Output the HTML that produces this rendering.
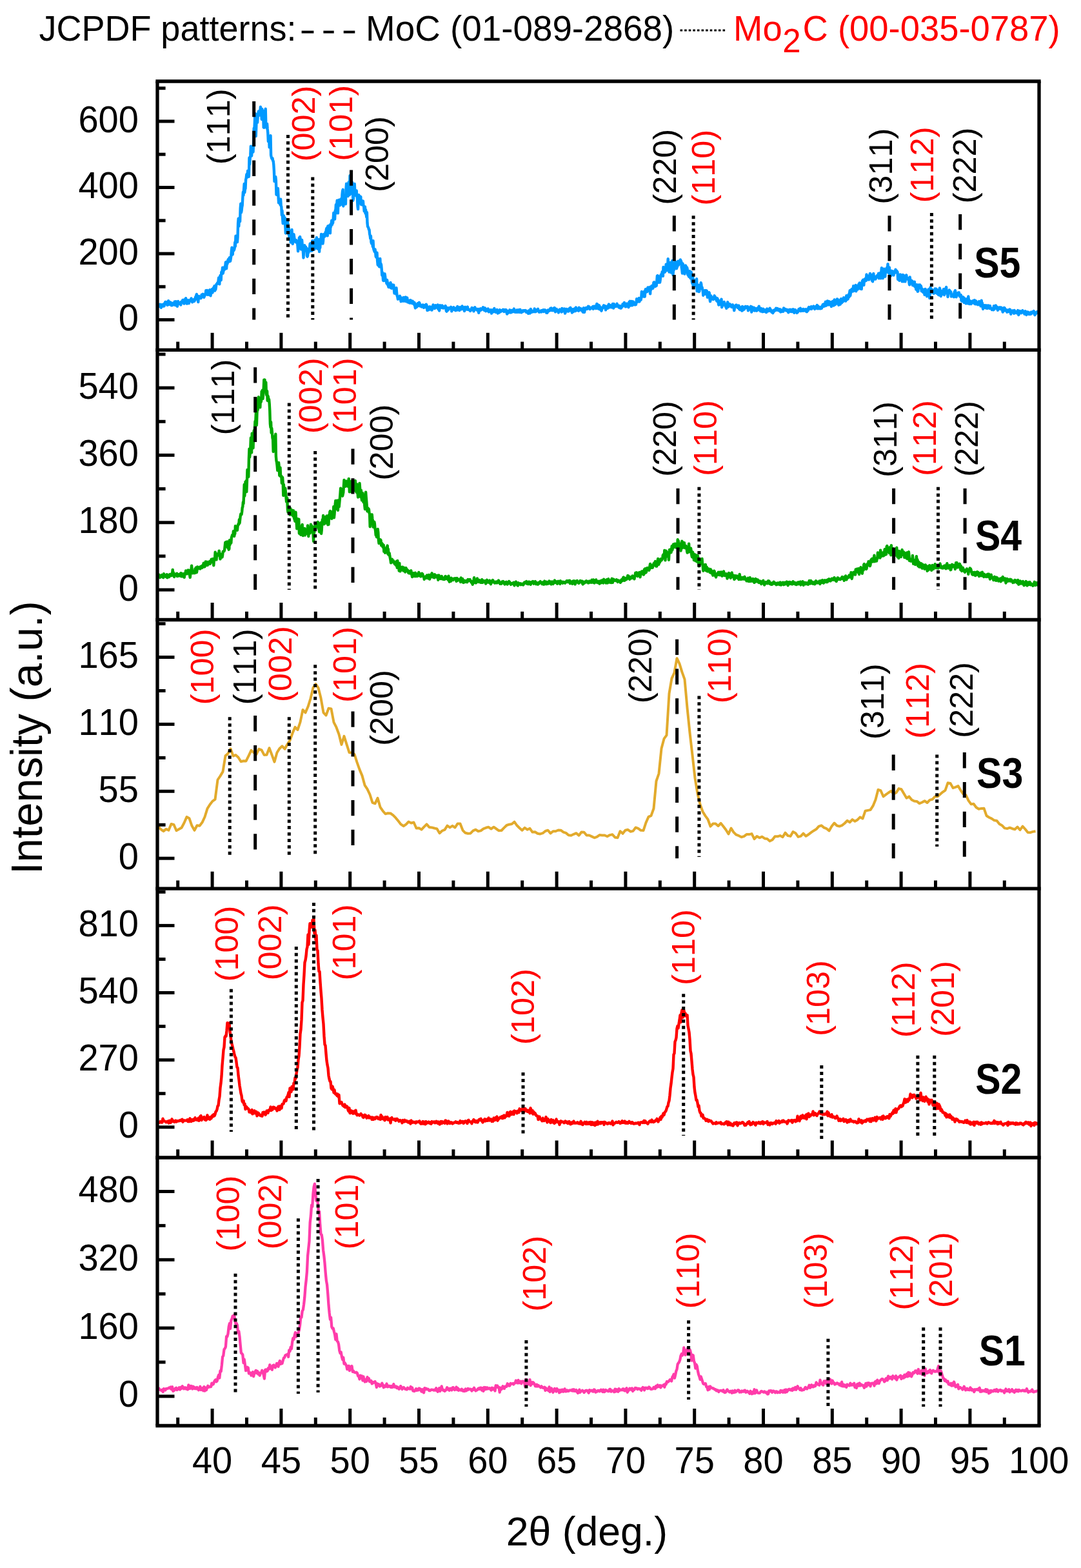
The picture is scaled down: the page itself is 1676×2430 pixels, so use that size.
<!DOCTYPE html>
<html><head><meta charset="utf-8"><title>XRD patterns</title>
<style>html,body{margin:0;padding:0;background:#fff;}svg{display:block;font-family:'Liberation Sans', Arial, sans-serif;font-kerning:none;}</style>
</head><body>
<svg width="1676" height="2430" viewBox="0 0 1676 2430">
<rect width="1676" height="2430" fill="#fff"/>
<path d="M245.5,474.6 246.1,475 246.7,473.6 247.3,472.1 247.9,472.6 248.5,471.8 249.1,474.3 249.7,476.8 250.3,473 250.9,472.4 251.5,474.7 252.1,474.6 252.7,473.6 253.3,471.4 253.9,473.2 254.5,474.4 255.1,470.2 255.7,470.9 256.3,468 256.9,468.6 257.5,468 258.1,471.1 258.7,469.7 259.3,472.8 259.9,472.8 260.5,471.1 261.1,466.1 261.7,470 262.3,471.8 262.9,471.6 263.5,468.1 264.1,469.7 264.7,468.8 265.3,469.6 265.9,473.4 266.5,469.7 267.1,471.1 267.7,473 268.3,469.9 268.9,470.4 269.5,471 270.1,470.4 270.7,467.6 271.3,470.7 271.9,473.1 272.5,467.3 273.1,471.7 273.7,470.4 274.3,469.1 274.9,474.8 275.5,471.9 276.1,466.9 276.7,469.4 277.3,470.8 277.9,469.2 278.5,470.7 279.1,469.4 279.7,471.1 280.3,472.4 280.9,467.6 281.5,468.6 282.1,467.4 282.7,468 283.3,465 283.9,466.1 284.5,467.6 285.1,470.6 285.7,470.6 286.3,464.3 286.9,465.2 287.5,468 288.1,462.1 288.7,465.1 289.3,467.1 289.9,470.5 290.5,469 291.1,466 291.7,465.4 292.3,466.2 292.9,470.1 293.5,465.5 294.1,465.2 294.7,466.7 295.3,465.5 295.9,464.6 296.5,462.4 297.1,464.7 297.7,464.5 298.3,468.3 298.9,467.1 299.5,465.2 300.1,466.2 300.7,464.1 301.3,466.9 301.9,464.6 302.5,464.8 303.1,460.2 303.7,463 304.3,457.5 304.9,456.1 305.5,460.4 306.1,459.6 306.7,463.1 307.3,468 307.9,459.7 308.5,459.1 309.1,461.5 309.7,462.2 310.3,460 310.9,459.8 311.5,462.2 312.1,461.2 312.7,456.6 313.3,458.6 313.9,458.7 314.5,455.8 315.1,458.6 315.7,456.4 316.3,460.9 316.9,459.1 317.5,457.9 318.1,455.7 318.7,455.7 319.3,450.2 319.9,452.4 320.5,456.1 321.1,450 321.7,456.8 322.3,450.7 322.9,456.4 323.5,452.9 324.1,456.7 324.7,454.2 325.3,449.3 325.9,457.4 326.5,458.3 327.1,452.8 327.7,450.9 328.3,450.3 328.9,448.1 329.5,453.5 330.1,448.5 330.7,448.4 331.3,445.5 331.9,444.7 332.5,443.2 333.1,450.6 333.7,446.7 334.3,448.7 334.9,444.5 335.5,440.6 336.1,440.4 336.7,439 337.3,439.7 337.9,437.4 338.5,435.7 339.1,430.5 339.7,432.5 340.3,440.3 340.9,430.6 341.5,426.9 342.1,431.9 342.7,434.1 343.3,421.6 343.9,423.4 344.5,420 345.1,414.8 345.7,423.7 346.3,420.6 346.9,418.7 347.5,414.5 348.1,417.8 348.7,413 349.3,412.3 349.9,406.5 350.5,406 351.1,416.2 351.7,408.2 352.3,409.3 352.9,406.7 353.5,402.9 354.1,401.8 354.7,405.8 355.3,400.5 355.9,399.4 356.5,400 357.1,404.7 357.7,401.2 358.3,396.9 358.9,389 359.5,383.8 360.1,394.8 360.7,394.3 361.3,386.6 361.9,388 362.5,388.2 363.1,386.9 363.7,384.2 364.3,375.5 364.9,381.7 365.5,365.8 366.1,373.8 366.7,371.2 367.3,371.4 367.9,375.2 368.5,367.9 369.1,345.8 369.7,338.6 370.3,350.6 370.9,338.4 371.5,341.6 372.1,343.3 372.7,322.6 373.3,315.8 373.9,329.6 374.5,327.1 375.1,321.4 375.7,318.3 376.3,306.7 376.9,297.7 377.5,302.6 378.1,292.8 378.7,285 379.3,298.1 379.9,293.5 380.5,292.1 381.1,278.3 381.7,276.1 382.3,270.7 382.9,269.5 383.5,274.5 384.1,264.8 384.7,269.1 385.3,268.1 385.9,273.8 386.5,244.5 387.1,254.7 387.7,245.7 388.3,240.4 388.9,226.6 389.5,232.8 390.1,241.5 390.7,233.9 391.3,231.5 391.9,227.8 392.5,235.5 393.1,221 393.7,198.8 394.3,204 394.9,189.3 395.5,176 396.1,196.8 396.7,211.1 397.3,195.9 397.9,178.8 398.5,177 399.1,189.9 399.7,180.6 400.3,175.7 400.9,172.4 401.5,172.5 402.1,178.6 402.7,177.5 403.3,173.7 403.9,165.8 404.5,177.8 405.1,173.1 405.7,185 406.3,168.9 406.9,176.7 407.5,178.4 408.1,171.8 408.7,197.4 409.3,197.7 409.9,183.3 410.5,192.9 411.1,189.4 411.7,168.8 412.3,192.4 412.9,196.4 413.5,198.4 414.1,191.9 414.7,200 415.3,205.9 415.9,219.2 416.5,215.3 417.1,215.6 417.7,228.4 418.3,215 418.9,214.8 419.5,210.1 420.1,240.6 420.7,243.2 421.3,245.5 421.9,246.4 422.5,245.3 423.1,249.1 423.7,249.8 424.3,254.9 424.9,264.3 425.5,281.1 426.1,278.4 426.7,275.4 427.3,274.1 427.9,280 428.5,301.8 429.1,298.3 429.7,296.1 430.3,294.4 430.9,292 431.5,304 432.1,314.3 432.7,308.2 433.3,310.8 433.9,314.1 434.5,317.4 435.1,308.6 435.7,319 436.3,320.3 436.9,333.3 437.5,326.5 438.1,337.9 438.7,346.4 439.3,335.5 439.9,334.2 440.5,341.3 441.1,341.4 441.7,337.4 442.3,349.9 442.9,361.5 443.5,348.5 444.1,346.9 444.7,343.8 445.3,352 445.9,343.9 446.5,346.9 447.1,362.3 447.7,353 448.3,365.7 448.9,370.5 449.5,363.8 450.1,367 450.7,375.5 451.3,363.3 451.9,358.9 452.5,356 453.1,366.8 453.7,378 454.3,375 454.9,363.2 455.5,363.1 456.1,367 456.7,372.6 457.3,371.3 457.9,374.1 458.5,375.1 459.1,372.2 459.7,374.1 460.3,376.1 460.9,375.7 461.5,380.9 462.1,389.3 462.7,382.7 463.3,377.2 463.9,368.5 464.5,378.1 465.1,366.9 465.7,370.7 466.3,385.4 466.9,386.4 467.5,380.3 468.1,371.9 468.7,378.9 469.3,380.1 469.9,389.8 470.5,399.5 471.1,388.7 471.7,381.5 472.3,380.2 472.9,386.9 473.5,387 474.1,382.8 474.7,388.5 475.3,384.4 475.9,396.3 476.5,397.8 477.1,396.3 477.7,387.9 478.3,391.3 478.9,387.7 479.5,385.1 480.1,383.8 480.7,377.6 481.3,377.3 481.9,389 482.5,385 483.1,386.6 483.7,388.6 484.3,373.1 484.9,376.6 485.5,382.8 486.1,383.7 486.7,380 487.3,386.6 487.9,381.2 488.5,371.6 489.1,373.2 489.7,383.4 490.3,380.4 490.9,368.2 491.5,384.9 492.1,383.6 492.7,385.5 493.3,375.2 493.9,373 494.5,371 495.1,390.1 495.7,377.9 496.3,384 496.9,372 497.5,372.9 498.1,362.9 498.7,370.1 499.3,377.3 499.9,366.2 500.5,377.5 501.1,373.1 501.7,363.3 502.3,364.7 502.9,365.1 503.5,366.5 504.1,362.5 504.7,359.7 505.3,361.2 505.9,355.7 506.5,353.5 507.1,361.4 507.7,365.3 508.3,350.5 508.9,356.6 509.5,352.1 510.1,349.8 510.7,359.3 511.3,352.6 511.9,361.4 512.5,347.6 513.1,351.3 513.7,346.1 514.3,341.6 514.9,348.1 515.5,343.4 516.1,345.6 516.7,338.9 517.3,330 517.9,334.6 518.5,336.2 519.1,339.6 519.7,326.3 520.3,327.5 520.9,317.2 521.5,330.1 522.1,317.5 522.7,310.8 523.3,323.5 523.9,330.4 524.5,310.7 525.1,310.2 525.7,311.8 526.3,309.7 526.9,318.4 527.5,309.7 528.1,309.2 528.7,316.8 529.3,307.8 529.9,312.8 530.5,301.4 531.1,295.8 531.7,293.8 532.3,319.5 532.9,305.9 533.5,306.6 534.1,304.4 534.7,304.7 535.3,305.5 535.9,316.3 536.5,292.7 537.1,284.6 537.7,287.4 538.3,287.2 538.9,303.7 539.5,304 540.1,287.7 540.7,282.3 541.3,292 541.9,302.1 542.5,272.3 543.1,293.1 543.7,286.4 544.3,300.1 544.9,286.7 545.5,290.2 546.1,282.8 546.7,289.9 547.3,310.8 547.9,308.3 548.5,297.5 549.1,291.4 549.7,284.9 550.3,297.1 550.9,302.4 551.5,303 552.1,302.1 552.7,295.5 553.3,303.5 553.9,307.3 554.5,319.6 555.1,324.1 555.7,308.4 556.3,302.3 556.9,307.3 557.5,304.3 558.1,304.2 558.7,309.1 559.3,304.9 559.9,317 560.5,314.8 561.1,317.3 561.7,315 562.3,311.5 562.9,311.7 563.5,318.6 564.1,319.9 564.7,327.4 565.3,327.1 565.9,320.5 566.5,330.6 567.1,325.3 567.7,332.3 568.3,336.4 568.9,329.3 569.5,345.8 570.1,351.1 570.7,351.9 571.3,353.1 571.9,355.9 572.5,355.9 573.1,362.7 573.7,364.9 574.3,369.8 574.9,365.6 575.5,375.1 576.1,377.3 576.7,376.7 577.3,377.1 577.9,382.2 578.5,373.1 579.1,385.1 579.7,387.2 580.3,388.9 580.9,390.3 581.5,386.4 582.1,390.4 582.7,397.4 583.3,398.7 583.9,397.6 584.5,391.6 585.1,403.7 585.7,410.4 586.3,411.1 586.9,407.2 587.5,401.1 588.1,413.4 588.7,409.7 589.3,400.9 589.9,413.9 590.5,408.8 591.1,410.6 591.7,416.9 592.3,426.7 592.9,422.3 593.5,426.5 594.1,434.7 594.7,435 595.3,428.5 595.9,427.3 596.5,424.3 597.1,428 597.7,434.2 598.3,435.6 598.9,435.9 599.5,439.3 600.1,434 600.7,437.3 601.3,441.7 601.9,442.7 602.5,445 603.1,443.1 603.7,441.2 604.3,443.4 604.9,439.1 605.5,438 606.1,446.4 606.7,446.2 607.3,446.8 607.9,441.2 608.5,445.6 609.1,446 609.7,444.9 610.3,441.7 610.9,449 611.5,454.6 612.1,453.6 612.7,451 613.3,453.6 613.9,455.3 614.5,446.2 615.1,454.1 615.7,458.2 616.3,460 616.9,463.6 617.5,462.5 618.1,460.2 618.7,460.5 619.3,461.8 619.9,458.7 620.5,460.4 621.1,464.3 621.7,467.2 622.3,461.8 622.9,461.7 623.5,463.2 624.1,466.3 624.7,463.8 625.3,466.7 625.9,461 626.5,462.5 627.1,463.4 627.7,466.6 628.3,466.9 628.9,460.4 629.5,461.8 630.1,465.3 630.7,463 631.3,461.6 631.9,468.2 632.5,468 633.1,467.6 633.7,465.9 634.3,469.2 634.9,467.2 635.5,469.6 636.1,465.2 636.7,465.2 637.3,467.8 637.9,466.7 638.5,469.9 639.1,469.2 639.7,466.7 640.3,468.8 640.9,468.9 641.5,471.6 642.1,468.6 642.7,469.4 643.3,474.1 643.9,477.4 644.5,476.7 645.1,472.3 645.7,472.8 646.3,475.6 646.9,472.1 647.5,470.2 648.1,472.8 648.7,473.7 649.3,470.8 649.9,468.8 650.5,469.9 651.1,474.4 651.7,472.2 652.3,473.4 652.9,474.7 653.5,475.5 654.1,473.9 654.7,475.1 655.3,472.6 655.9,473.1 656.5,472.7 657.1,476.9 657.7,474.9 658.3,473.2 658.9,473.9 659.5,474.7 660.1,476.1 660.7,471.7 661.3,472.4 661.9,475 662.5,481 663.1,478.3 663.7,475.9 664.3,477.8 664.9,480.2 665.5,475.8 666.1,475.4 666.7,478.5 667.3,477.6 667.9,477.4 668.5,475.8 669.1,480.5 669.7,480.5 670.3,478.2 670.9,477.2 671.5,472.5 672.1,477 672.7,476.4 673.3,477.5 673.9,478 674.5,475.6 675.1,473.2 675.7,476.7 676.3,475.2 676.9,475.7 677.5,475.4 678.1,475.3 678.7,472.4 679.3,478.8 679.9,478.2 680.5,479.9 681.1,481.4 681.7,477.2 682.3,473.2 682.9,474.4 683.5,474.3 684.1,475.9 684.7,476.7 685.3,473.4 685.9,477 686.5,474.5 687.1,477.5 687.7,477.2 688.3,476.8 688.9,477.1 689.5,476.3 690.1,475.7 690.7,474.1 691.3,477.6 691.9,481.9 692.5,482.6 693.1,481.2 693.7,479.3 694.3,477.1 694.9,480.5 695.5,478.1 696.1,477.6 696.7,477.3 697.3,477.9 697.9,477.1 698.5,477.4 699.1,475.7 699.7,477.7 700.3,482.4 700.9,478.6 701.5,477.8 702.1,479.3 702.7,479.4 703.3,476.2 703.9,477.8 704.5,480.1 705.1,479.1 705.7,479.1 706.3,481.2 706.9,477.5 707.5,478.2 708.1,477.9 708.7,480.6 709.3,474.9 709.9,476.5 710.5,477.5 711.1,479.8 711.7,480.3 712.3,481 712.9,476.2 713.5,479.6 714.1,478.1 714.7,477.5 715.3,479.3 715.9,476.6 716.5,474.4 717.1,477.1 717.7,475.7 718.3,477.3 718.9,479.5 719.5,480.1 720.1,482 720.7,478.6 721.3,475.8 721.9,476.9 722.5,476.8 723.1,476.7 723.7,479.4 724.3,477.5 724.9,475.5 725.5,479.9 726.1,479.3 726.7,480 727.3,479.8 727.9,480.6 728.5,480 729.1,481.9 729.7,480.7 730.3,480.5 730.9,480 731.5,476.9 732.1,478.8 732.7,479.2 733.3,479.6 733.9,477.7 734.5,482.4 735.1,480.1 735.7,477.1 736.3,476.3 736.9,478.8 737.5,479.5 738.1,478.6 738.7,479.8 739.3,479 739.9,480.7 740.5,478.9 741.1,480.1 741.7,482.6 742.3,484.8 742.9,478.9 743.5,478.9 744.1,478.8 744.7,481.2 745.3,478.3 745.9,479.2 746.5,480 747.1,478.4 747.7,478.4 748.3,478.8 748.9,476.2 749.5,477.3 750.1,479.5 750.7,480.7 751.3,479.9 751.9,477.3 752.5,479.6 753.1,482.2 753.7,481.9 754.3,480.6 754.9,479.4 755.5,481.6 756.1,479.7 756.7,478.5 757.3,479.6 757.9,483.4 758.5,482.1 759.1,483 759.7,480.7 760.3,482.4 760.9,480.2 761.5,481.3 762.1,485.6 762.7,483 763.3,480.5 763.9,481 764.5,482.1 765.1,483.3 765.7,480.3 766.3,478 766.9,480.3 767.5,481.3 768.1,481.9 768.7,483.7 769.3,482.5 769.9,482.6 770.5,479.9 771.1,483.2 771.7,485.5 772.3,483.4 772.9,482.1 773.5,482.3 774.1,484.4 774.7,480.3 775.3,481.2 775.9,482.5 776.5,482.8 777.1,481.1 777.7,481.9 778.3,481.2 778.9,481.7 779.5,481.1 780.1,479.7 780.7,481.6 781.3,482.9 781.9,480.2 782.5,481.2 783.1,482.5 783.7,480.1 784.3,481.5 784.9,480.3 785.5,484 786.1,486.5 786.7,485.8 787.3,482.2 787.9,483.1 788.5,482.3 789.1,482.5 789.7,484.2 790.3,480.3 790.9,483.4 791.5,482.5 792.1,484.4 792.7,482.5 793.3,480.9 793.9,482.5 794.5,483.3 795.1,482.4 795.7,482.7 796.3,480.7 796.9,478.5 797.5,483.2 798.1,483.5 798.7,482.5 799.3,482.5 799.9,483.7 800.5,481.4 801.1,480.7 801.7,481.9 802.3,483.7 802.9,480.4 803.5,483.6 804.1,481.1 804.7,480.4 805.3,483.9 805.9,482 806.5,479.8 807.1,481.4 807.7,483.9 808.3,484.3 808.9,481.8 809.5,482.9 810.1,483.3 810.7,481.3 811.3,482.6 811.9,482 812.5,481.1 813.1,481.2 813.7,482.1 814.3,482.1 814.9,481.1 815.5,481.5 816.1,483.9 816.7,483 817.3,483.9 817.9,484.5 818.5,483.9 819.1,485.8 819.7,481.5 820.3,483.1 820.9,482.2 821.5,485.5 822.1,484.9 822.7,478.9 823.3,480 823.9,483.1 824.5,483.7 825.1,483.4 825.7,482.1 826.3,482.9 826.9,483.1 827.5,482.2 828.1,483.1 828.7,478.5 829.3,482.1 829.9,480.5 830.5,483.2 831.1,481.5 831.7,480.3 832.3,482 832.9,480.1 833.5,479.6 834.1,478.9 834.7,481.4 835.3,482.8 835.9,483.6 836.5,482 837.1,483.4 837.7,481.9 838.3,481.6 838.9,482.9 839.5,483.5 840.1,481.2 840.7,481 841.3,481.3 841.9,481.4 842.5,480.3 843.1,483 843.7,481.2 844.3,482 844.9,480.3 845.5,482 846.1,482.1 846.7,481.3 847.3,484.9 847.9,483 848.5,484.8 849.1,483.3 849.7,480.4 850.3,480.6 850.9,482 851.5,481.5 852.1,481.3 852.7,480.3 853.3,478 853.9,479.8 854.5,477.4 855.1,481.1 855.7,479.9 856.3,479.7 856.9,480.7 857.5,481.2 858.1,478.3 858.7,477.5 859.3,478.3 859.9,477.1 860.5,479.3 861.1,483.4 861.7,479.9 862.3,481.6 862.9,479 863.5,481.2 864.1,480.6 864.7,481.1 865.3,482.5 865.9,484.4 866.5,481.9 867.1,481.1 867.7,479.5 868.3,481.7 868.9,481 869.5,482.4 870.1,481.6 870.7,483.5 871.3,477.9 871.9,480.2 872.5,482.4 873.1,480.4 873.7,479.4 874.3,479.9 874.9,478.5 875.5,481.4 876.1,485.6 876.7,483.3 877.3,479 877.9,479 878.5,480.2 879.1,482.3 879.7,479.5 880.3,479.7 880.9,482.5 881.5,482.5 882.1,480.1 882.7,478.3 883.3,477.6 883.9,478.6 884.5,476.8 885.1,481.3 885.7,480 886.3,481.9 886.9,484.5 887.5,483 888.1,479.2 888.7,482.2 889.3,482.8 889.9,479.4 890.5,478.7 891.1,479.7 891.7,478.1 892.3,482.1 892.9,476.4 893.5,477.8 894.1,479.7 894.7,480.1 895.3,480.8 895.9,480.9 896.5,480.4 897.1,481.8 897.7,476.8 898.3,479.6 898.9,479.1 899.5,480.4 900.1,480.4 900.7,478.3 901.3,478.8 901.9,481.2 902.5,480.4 903.1,479 903.7,483.7 904.3,483.8 904.9,477.1 905.5,479.9 906.1,483.9 906.7,481 907.3,479.1 907.9,477.8 908.5,477 909.1,477.3 909.7,476.9 910.3,478.9 910.9,476.9 911.5,476.1 912.1,474.7 912.7,476.5 913.3,475.2 913.9,476.7 914.5,479.1 915.1,478.1 915.7,478.1 916.3,477.7 916.9,476.9 917.5,476.3 918.1,476.2 918.7,477.7 919.3,475 919.9,478.9 920.5,476.7 921.1,474.7 921.7,474.9 922.3,474.8 922.9,476.2 923.5,475.2 924.1,478.2 924.7,474.2 925.3,471 925.9,473.3 926.5,471.7 927.1,475.7 927.7,478.5 928.3,477.3 928.9,473.2 929.5,474.6 930.1,479.6 930.7,477.2 931.3,476.4 931.9,478.9 932.5,481.8 933.1,479.4 933.7,476.7 934.3,476.8 934.9,477.1 935.5,474.4 936.1,473.4 936.7,475.3 937.3,473.8 937.9,475.4 938.5,476.7 939.1,480.4 939.7,474.6 940.3,475.1 940.9,475.4 941.5,476.8 942.1,477.8 942.7,474.6 943.3,473.1 943.9,471.5 944.5,473.2 945.1,476.4 945.7,475.4 946.3,473.2 946.9,474.3 947.5,475.5 948.1,476.3 948.7,474.2 949.3,474 949.9,470.9 950.5,472.7 951.1,477.6 951.7,470.9 952.3,473.8 952.9,475.4 953.5,474.1 954.1,473.2 954.7,474.6 955.3,474.9 955.9,474.1 956.5,470.7 957.1,473.6 957.7,472.7 958.3,473.3 958.9,475.2 959.5,476.4 960.1,476.6 960.7,474 961.3,476.7 961.9,477.6 962.5,477.6 963.1,477.6 963.7,474.2 964.3,473.9 964.9,475.3 965.5,471.1 966.1,473.6 966.7,472.4 967.3,471.9 967.9,469 968.5,470.7 969.1,473.1 969.7,475.4 970.3,475.4 970.9,472.8 971.5,471.8 972.1,470.6 972.7,472.9 973.3,471.9 973.9,473.9 974.5,476.2 975.1,471.7 975.7,467.6 976.3,468.2 976.9,466.9 977.5,468 978.1,473.5 978.7,471 979.3,466.9 979.9,471.6 980.5,473.1 981.1,469 981.7,467.5 982.3,468.3 982.9,469.9 983.5,471 984.1,472.3 984.7,472.3 985.3,472.1 985.9,472 986.5,469.1 987.1,463.3 987.7,465.8 988.3,466.8 988.9,465.2 989.5,467.4 990.1,463.7 990.7,462 991.3,467.5 991.9,465.5 992.5,463.6 993.1,464.8 993.7,464.6 994.3,460.6 994.9,451.9 995.5,455.4 996.1,455.9 996.7,454.2 997.3,457.4 997.9,459.6 998.5,453.7 999.1,451.6 999.7,459.7 1000.3,452 1000.9,448.2 1001.5,452.2 1002.1,452.4 1002.7,448.8 1003.3,452.1 1003.9,447.6 1004.5,445.4 1005.1,448.8 1005.7,450.2 1006.3,445.4 1006.9,447.3 1007.5,447.3 1008.1,455.3 1008.7,444.5 1009.3,449 1009.9,444.2 1010.5,443 1011.1,445.7 1011.7,446.5 1012.3,446.9 1012.9,442.4 1013.5,437.7 1014.1,437.4 1014.7,441 1015.3,441.8 1015.9,444 1016.5,440.3 1017.1,442 1017.7,442.8 1018.3,435.9 1018.9,427.8 1019.5,427.1 1020.1,427.4 1020.7,437.8 1021.3,429.9 1021.9,436 1022.5,434.5 1023.1,437.7 1023.7,433.7 1024.3,427.4 1024.9,425.4 1025.5,425.7 1026.1,424.9 1026.7,421.1 1027.3,423.1 1027.9,427.9 1028.5,414 1029.1,419.2 1029.7,415 1030.3,419.1 1030.9,421.7 1031.5,417.8 1032.1,419 1032.7,409.6 1033.3,419.3 1033.9,413.5 1034.5,417.6 1035.1,414 1035.7,401.1 1036.3,408.5 1036.9,415.4 1037.5,421.5 1038.1,415.9 1038.7,413.4 1039.3,406.9 1039.9,419.9 1040.5,422.4 1041.1,413.4 1041.7,409.5 1042.3,404 1042.9,416.8 1043.5,426.2 1044.1,417.9 1044.7,418.5 1045.3,414.1 1045.9,407.6 1046.5,416.2 1047.1,405.7 1047.7,409.3 1048.3,413.1 1048.9,416.2 1049.5,414.4 1050.1,413.2 1050.7,407.1 1051.3,404.8 1051.9,410.8 1052.5,407.7 1053.1,404.4 1053.7,404.9 1054.3,408.1 1054.9,402.5 1055.5,404.1 1056.1,404.7 1056.7,413.9 1057.3,417.8 1057.9,423.6 1058.5,408.4 1059.1,411.4 1059.7,419.3 1060.3,415.2 1060.9,415.8 1061.5,424.6 1062.1,416.2 1062.7,411.4 1063.3,412 1063.9,420.5 1064.5,421.2 1065.1,414.5 1065.7,417.1 1066.3,425.4 1066.9,426.7 1067.5,423 1068.1,428.8 1068.7,428.8 1069.3,420.3 1069.9,426.7 1070.5,431.1 1071.1,427.1 1071.7,421.8 1072.3,430.2 1072.9,437 1073.5,439.4 1074.1,427.9 1074.7,443.8 1075.3,433.3 1075.9,440.4 1076.5,443.2 1077.1,442.5 1077.7,438.8 1078.3,434.8 1078.9,441 1079.5,436.3 1080.1,432.3 1080.7,451.3 1081.3,447.5 1081.9,449.5 1082.5,441.7 1083.1,449.7 1083.7,452.1 1084.3,451.6 1084.9,445.7 1085.5,441.6 1086.1,444.2 1086.7,438.3 1087.3,440.6 1087.9,447.2 1088.5,445.3 1089.1,448.2 1089.7,450.5 1090.3,457.7 1090.9,456.4 1091.5,452.6 1092.1,455.7 1092.7,450.3 1093.3,451.9 1093.9,455.7 1094.5,450.2 1095.1,452.3 1095.7,450.6 1096.3,456 1096.9,460.8 1097.5,454.9 1098.1,456.8 1098.7,454.1 1099.3,453.2 1099.9,454.5 1100.5,463.7 1101.1,467.2 1101.7,461.8 1102.3,458.4 1102.9,462 1103.5,460.5 1104.1,463.6 1104.7,463 1105.3,463.2 1105.9,464 1106.5,461.2 1107.1,461.1 1107.7,458.3 1108.3,461.4 1108.9,460.1 1109.5,463.3 1110.1,462.4 1110.7,465.4 1111.3,466.4 1111.9,462.1 1112.5,463.3 1113.1,464.3 1113.7,469.4 1114.3,472.6 1114.9,470.6 1115.5,468.2 1116.1,471.6 1116.7,466.2 1117.3,472.1 1117.9,467.4 1118.5,463.7 1119.1,476.2 1119.7,474.8 1120.3,468.8 1120.9,470.9 1121.5,470.8 1122.1,471.1 1122.7,467.9 1123.3,469.9 1123.9,473 1124.5,473.3 1125.1,475.3 1125.7,473.9 1126.3,477.9 1126.9,472.1 1127.5,472.6 1128.1,468.3 1128.7,470.1 1129.3,475.6 1129.9,471.9 1130.5,474.4 1131.1,473.3 1131.7,471.3 1132.3,472.6 1132.9,472.5 1133.5,473.1 1134.1,475.9 1134.7,475.8 1135.3,473 1135.9,472.4 1136.5,474.8 1137.1,474.8 1137.7,477.8 1138.3,481.2 1138.9,477.6 1139.5,475.1 1140.1,474.4 1140.7,472.9 1141.3,472.6 1141.9,472.7 1142.5,474 1143.1,474.6 1143.7,476.8 1144.3,474.9 1144.9,474.7 1145.5,473.6 1146.1,479 1146.7,478 1147.3,480.1 1147.9,478.7 1148.5,479.3 1149.1,476.2 1149.7,478.4 1150.3,481.7 1150.9,474.9 1151.5,478.9 1152.1,480.4 1152.7,478.1 1153.3,478.6 1153.9,479.3 1154.5,475.8 1155.1,477.1 1155.7,474.9 1156.3,475 1156.9,475.4 1157.5,476.6 1158.1,477.5 1158.7,477.7 1159.3,475.1 1159.9,481.3 1160.5,480.6 1161.1,479.2 1161.7,477 1162.3,477.5 1162.9,478.9 1163.5,478.3 1164.1,474.8 1164.7,479.8 1165.3,483.6 1165.9,475.6 1166.5,479.8 1167.1,479.3 1167.7,478.7 1168.3,480.8 1168.9,476.6 1169.5,479 1170.1,481.6 1170.7,478.7 1171.3,478 1171.9,478.9 1172.5,478.6 1173.1,481.7 1173.7,478.1 1174.3,480.3 1174.9,477.3 1175.5,480.3 1176.1,478.7 1176.7,474.6 1177.3,478.6 1177.9,477.5 1178.5,479.1 1179.1,482.3 1179.7,477.9 1180.3,478.1 1180.9,482.5 1181.5,481.2 1182.1,483.2 1182.7,481 1183.3,478.7 1183.9,480.3 1184.5,482.9 1185.1,482.6 1185.7,480.8 1186.3,480.6 1186.9,480.3 1187.5,480.1 1188.1,484.1 1188.7,481 1189.3,478.6 1189.9,479.9 1190.5,482.3 1191.1,482.3 1191.7,480.7 1192.3,479.8 1192.9,480.5 1193.5,477.7 1194.1,478.5 1194.7,482.1 1195.3,480.6 1195.9,482.1 1196.5,483.7 1197.1,482.7 1197.7,482 1198.3,485.2 1198.9,482.9 1199.5,481 1200.1,482.6 1200.7,482 1201.3,479.9 1201.9,481.1 1202.5,480.5 1203.1,477.7 1203.7,480.4 1204.3,480.6 1204.9,480 1205.5,478.1 1206.1,480.2 1206.7,481.1 1207.3,481.1 1207.9,479.4 1208.5,481.8 1209.1,479.2 1209.7,480.9 1210.3,483.4 1210.9,480.2 1211.5,480.5 1212.1,482.9 1212.7,480.8 1213.3,480.7 1213.9,481.9 1214.5,482.6 1215.1,477.4 1215.7,478.9 1216.3,478.9 1216.9,478.8 1217.5,479.2 1218.1,479.6 1218.7,481.3 1219.3,479.8 1219.9,481.4 1220.5,481.8 1221.1,480.1 1221.7,481.7 1222.3,484.3 1222.9,482.1 1223.5,480.2 1224.1,480.7 1224.7,479.7 1225.3,481.7 1225.9,482.7 1226.5,480 1227.1,481 1227.7,483.1 1228.3,480.7 1228.9,481.2 1229.5,479.3 1230.1,479.4 1230.7,480.7 1231.3,484.8 1231.9,481 1232.5,480.1 1233.1,480.1 1233.7,481 1234.3,482.4 1234.9,482.3 1235.5,484.9 1236.1,482.6 1236.7,483.9 1237.3,482.3 1237.9,482 1238.5,478.9 1239.1,480.6 1239.7,481 1240.3,480.3 1240.9,477.7 1241.5,482.1 1242.1,480.7 1242.7,480.3 1243.3,480.6 1243.9,480.9 1244.5,481.6 1245.1,478.9 1245.7,479.3 1246.3,481.5 1246.9,481.4 1247.5,480.3 1248.1,479.7 1248.7,479.3 1249.3,480.8 1249.9,482.6 1250.5,479.5 1251.1,483.2 1251.7,482.2 1252.3,479.9 1252.9,481.1 1253.5,477.1 1254.1,476 1254.7,476.8 1255.3,478.4 1255.9,478.6 1256.5,478.3 1257.1,478.6 1257.7,475.1 1258.3,478.8 1258.9,475.9 1259.5,476.7 1260.1,477.1 1260.7,475.4 1261.3,474.7 1261.9,475.5 1262.5,477.6 1263.1,478.9 1263.7,478.4 1264.3,475.2 1264.9,474.9 1265.5,475 1266.1,476.8 1266.7,473 1267.3,478.3 1267.9,475.5 1268.5,474.5 1269.1,476.8 1269.7,478.3 1270.3,477.1 1270.9,477.9 1271.5,476.4 1272.1,478.3 1272.7,478.1 1273.3,475.5 1273.9,477.8 1274.5,475.3 1275.1,474.2 1275.7,472 1276.3,473.2 1276.9,474.9 1277.5,471.1 1278.1,474.5 1278.7,474.3 1279.3,473 1279.9,467.8 1280.5,471.8 1281.1,473.6 1281.7,470.7 1282.3,471.1 1282.9,466.5 1283.5,472.1 1284.1,470.4 1284.7,472.4 1285.3,467.2 1285.9,471.8 1286.5,470.7 1287.1,472.1 1287.7,468.1 1288.3,469.1 1288.9,475 1289.5,468.3 1290.1,467.5 1290.7,468.1 1291.3,467.1 1291.9,472.4 1292.5,473.5 1293.1,467.1 1293.7,464.5 1294.3,471.3 1294.9,472 1295.5,471.2 1296.1,471.1 1296.7,466.1 1297.3,466.5 1297.9,463.5 1298.5,463.7 1299.1,469.1 1299.7,466.7 1300.3,472.8 1300.9,467.7 1301.5,465.4 1302.1,469.1 1302.7,471.7 1303.3,467.7 1303.9,463.1 1304.5,466.8 1305.1,469.3 1305.7,464.3 1306.3,463.2 1306.9,467.4 1307.5,465 1308.1,461.3 1308.7,462.3 1309.3,461.8 1309.9,464.2 1310.5,464.3 1311.1,466.6 1311.7,464.5 1312.3,458.1 1312.9,462.6 1313.5,464.2 1314.1,462.9 1314.7,463.2 1315.3,457.9 1315.9,456.2 1316.5,460.3 1317.1,453.8 1317.7,450.2 1318.3,458.2 1318.9,453.7 1319.5,452.9 1320.1,448.9 1320.7,447.9 1321.3,448.1 1321.9,450.5 1322.5,451.3 1323.1,443.3 1323.7,450.7 1324.3,444.9 1324.9,444.5 1325.5,449.6 1326.1,446.4 1326.7,441.9 1327.3,451.3 1327.9,443.2 1328.5,445.1 1329.1,445.7 1329.7,448.6 1330.3,442.5 1330.9,445.6 1331.5,440.3 1332.1,444.9 1332.7,438.5 1333.3,439.8 1333.9,447.6 1334.5,442.2 1335.1,441.3 1335.7,448.1 1336.3,440.8 1336.9,435.5 1337.5,439.4 1338.1,433.6 1338.7,441.5 1339.3,441.8 1339.9,434.1 1340.5,432.9 1341.1,435.7 1341.7,434.6 1342.3,431 1342.9,434.8 1343.5,425.5 1344.1,430.3 1344.7,431.1 1345.3,431.7 1345.9,432.9 1346.5,427.6 1347.1,433.5 1347.7,430.8 1348.3,427.5 1348.9,423.9 1349.5,424.9 1350.1,430.5 1350.7,426.2 1351.3,430.1 1351.9,434.8 1352.5,435.4 1353.1,436.2 1353.7,427.6 1354.3,424 1354.9,432 1355.5,430.5 1356.1,432.6 1356.7,428.7 1357.3,432.6 1357.9,431.5 1358.5,430.2 1359.1,428.8 1359.7,427.7 1360.3,426.6 1360.9,426.7 1361.5,428.8 1362.1,423.7 1362.7,431.4 1363.3,424.9 1363.9,427.6 1364.5,423.1 1365.1,422.9 1365.7,431.4 1366.3,421.2 1366.9,415.2 1367.5,417.2 1368.1,420.9 1368.7,431.2 1369.3,424.1 1369.9,424.6 1370.5,416.8 1371.1,421.9 1371.7,425 1372.3,428.7 1372.9,418.5 1373.5,422.6 1374.1,421.1 1374.7,415.3 1375.3,418.9 1375.9,417 1376.5,409.1 1377.1,421.5 1377.7,422.6 1378.3,417.4 1378.9,414.5 1379.5,426.3 1380.1,423.2 1380.7,426.3 1381.3,427.4 1381.9,419.6 1382.5,423.9 1383.1,420.1 1383.7,420.3 1384.3,420.5 1384.9,421.8 1385.5,426.6 1386.1,422.7 1386.7,420.7 1387.3,420.5 1387.9,422.6 1388.5,417.7 1389.1,419.2 1389.7,421.4 1390.3,419.8 1390.9,421.4 1391.5,421.5 1392.1,433 1392.7,431.4 1393.3,426.9 1393.9,425.9 1394.5,434.8 1395.1,427.9 1395.7,425.4 1396.3,427.3 1396.9,428.7 1397.5,433.1 1398.1,429.3 1398.7,436.2 1399.3,425.9 1399.9,430.2 1400.5,426.1 1401.1,436.3 1401.7,429.4 1402.3,430.3 1402.9,435.4 1403.5,436.3 1404.1,427.3 1404.7,428.9 1405.3,426.3 1405.9,432.4 1406.5,432.6 1407.1,431.7 1407.7,430.8 1408.3,432 1408.9,432 1409.5,438.1 1410.1,441.3 1410.7,429.4 1411.3,435 1411.9,435.9 1412.5,439.1 1413.1,434.8 1413.7,437.1 1414.3,435.6 1414.9,442.1 1415.5,441.1 1416.1,440.5 1416.7,442.6 1417.3,440.2 1417.9,436.6 1418.5,444.3 1419.1,444.6 1419.7,443.8 1420.3,448.4 1420.9,449 1421.5,441.1 1422.1,442.6 1422.7,451.7 1423.3,451.6 1423.9,443.7 1424.5,441.5 1425.1,443.6 1425.7,444.2 1426.3,441.5 1426.9,446.4 1427.5,442.9 1428.1,443.9 1428.7,451 1429.3,447.1 1429.9,449 1430.5,452.2 1431.1,452.9 1431.7,449.5 1432.3,450 1432.9,448.8 1433.5,456.9 1434.1,453.8 1434.7,448 1435.3,451.5 1435.9,454.5 1436.5,454.9 1437.1,459.3 1437.7,457.6 1438.3,451.3 1438.9,451.3 1439.5,448.4 1440.1,453 1440.7,454.7 1441.3,462 1441.9,453.4 1442.5,445.4 1443.1,449.5 1443.7,452.2 1444.3,448.2 1444.9,449 1445.5,451.3 1446.1,453.6 1446.7,451.9 1447.3,450.1 1447.9,454.7 1448.5,451.1 1449.1,450.1 1449.7,447.5 1450.3,449.7 1450.9,453.7 1451.5,447.6 1452.1,452.1 1452.7,454.9 1453.3,452 1453.9,452.8 1454.5,449.8 1455.1,457.1 1455.7,457.2 1456.3,453.2 1456.9,446.5 1457.5,448.9 1458.1,456.4 1458.7,459.1 1459.3,455.2 1459.9,456.8 1460.5,451.2 1461.1,451.8 1461.7,452.9 1462.3,453.4 1462.9,448.3 1463.5,455.8 1464.1,457.1 1464.7,448.9 1465.3,447.8 1465.9,453 1466.5,449.6 1467.1,445 1467.7,454.5 1468.3,453.7 1468.9,452.6 1469.5,460 1470.1,454.3 1470.7,450.8 1471.3,452.7 1471.9,449.6 1472.5,450.6 1473.1,454.2 1473.7,451.7 1474.3,452.8 1474.9,459.5 1475.5,458 1476.1,457.3 1476.7,456.5 1477.3,456.8 1477.9,459.4 1478.5,456 1479.1,460.2 1479.7,452.4 1480.3,452.9 1480.9,450.2 1481.5,453.6 1482.1,457.6 1482.7,460.3 1483.3,454.6 1483.9,455.9 1484.5,455.3 1485.1,454.2 1485.7,453.7 1486.3,457 1486.9,453.4 1487.5,458.7 1488.1,459.5 1488.7,457.8 1489.3,456.8 1489.9,457.5 1490.5,465.9 1491.1,459.7 1491.7,466.7 1492.3,465.1 1492.9,462 1493.5,460.6 1494.1,466.9 1494.7,468.9 1495.3,462.2 1495.9,463.6 1496.5,467.5 1497.1,466.9 1497.7,470.3 1498.3,464.5 1498.9,466 1499.5,463 1500.1,470.4 1500.7,463.6 1501.3,459.5 1501.9,464.6 1502.5,466.4 1503.1,471.1 1503.7,466.1 1504.3,466.5 1504.9,468.7 1505.5,471.1 1506.1,467.6 1506.7,469.8 1507.3,468.7 1507.9,466.6 1508.5,467.4 1509.1,467.2 1509.7,465.7 1510.3,470 1510.9,465.3 1511.5,471 1512.1,471.2 1512.7,468.3 1513.3,466.6 1513.9,468.2 1514.5,470.5 1515.1,471.5 1515.7,470.9 1516.3,472.2 1516.9,469.1 1517.5,470.1 1518.1,467.1 1518.7,472.1 1519.3,471.6 1519.9,470.8 1520.5,474.4 1521.1,472.9 1521.7,465.7 1522.3,470.9 1522.9,469.6 1523.5,475.6 1524.1,478.9 1524.7,473 1525.3,473.4 1525.9,473.3 1526.5,474.8 1527.1,476.1 1527.7,477 1528.3,473.3 1528.9,477.5 1529.5,473.4 1530.1,475.6 1530.7,477.9 1531.3,476.9 1531.9,473.4 1532.5,473.6 1533.1,474.4 1533.7,475.9 1534.3,477.9 1534.9,473.9 1535.5,476.9 1536.1,477.9 1536.7,477.9 1537.3,478.1 1537.9,480.1 1538.5,478.5 1539.1,479 1539.7,479 1540.3,480.3 1540.9,474.3 1541.5,479.3 1542.1,477.2 1542.7,476.6 1543.3,475.1 1543.9,473.6 1544.5,476.3 1545.1,476.6 1545.7,478.4 1546.3,475.9 1546.9,480.7 1547.5,479.3 1548.1,477.9 1548.7,477 1549.3,476.7 1549.9,476.3 1550.5,477.6 1551.1,478.9 1551.7,478.5 1552.3,476.6 1552.9,478.3 1553.5,477.9 1554.1,480.3 1554.7,483.5 1555.3,481.6 1555.9,479.3 1556.5,476.9 1557.1,477 1557.7,477.4 1558.3,481.4 1558.9,479.8 1559.5,480.8 1560.1,480.1 1560.7,481.7 1561.3,483.7 1561.9,480.7 1562.5,480.8 1563.1,480.7 1563.7,483 1564.3,480.4 1564.9,479.8 1565.5,479.5 1566.1,480 1566.7,483.7 1567.3,486.8 1567.9,482.1 1568.5,484.3 1569.1,483.4 1569.7,481.4 1570.3,482.4 1570.9,482.7 1571.5,482.6 1572.1,485.8 1572.7,481 1573.3,483.7 1573.9,484 1574.5,482.8 1575.1,483.9 1575.7,485.1 1576.3,484.2 1576.9,484.6 1577.5,484.4 1578.1,481.1 1578.7,486.2 1579.3,487.9 1579.9,486.2 1580.5,485.4 1581.1,482 1581.7,483.3 1582.3,482.6 1582.9,483.2 1583.5,485.2 1584.1,483.1 1584.7,483.3 1585.3,481.2 1585.9,483.6 1586.5,484.2 1587.1,483.1 1587.7,483.5 1588.3,486.7 1588.9,482.7 1589.5,482.3 1590.1,483.2 1590.7,486.5 1591.3,487.9 1591.9,485.3 1592.5,483.4 1593.1,483.9 1593.7,485.8 1594.3,483.8 1594.9,486.8 1595.5,487 1596.1,485.2 1596.7,485.8 1597.3,486.2 1597.9,486.9 1598.5,483.7 1599.1,486.1 1599.7,484.2 1600.3,483.5 1600.9,484.6 1601.5,484.2 1602.1,482.9 1602.7,482 1603.3,483.3 1603.9,487.1 1604.5,488.1 1605.1,486.4 1605.7,486.5 1606.3,484.3 1606.9,484.6 1607.5,484.9 1608.1,483 1608.7,483.1 1609.3,484.7" fill="none" stroke="#0099ff" stroke-width="4.4" stroke-linejoin="round"/>
<path d="M245.5,891.8 246.1,890.5 246.7,893.3 247.3,892.7 247.9,895 248.5,893 249.1,892.2 249.7,892.9 250.3,892.2 250.9,891.1 251.5,891.9 252.1,894.4 252.7,894.8 253.3,895.1 253.9,889.1 254.5,891 255.1,891.5 255.7,892.6 256.3,891.3 256.9,891.4 257.5,894 258.1,892.6 258.7,890.2 259.3,895.2 259.9,894.7 260.5,891.5 261.1,893.5 261.7,891 262.3,894.2 262.9,891.6 263.5,889.9 264.1,890.4 264.7,890 265.3,891.9 265.9,892.1 266.5,891.5 267.1,889 267.7,882.9 268.3,889.7 268.9,887.1 269.5,891.6 270.1,894 270.7,892 271.3,890.2 271.9,890.4 272.5,890.4 273.1,889.4 273.7,889 274.3,888.8 274.9,893.1 275.5,891.4 276.1,892.7 276.7,890.3 277.3,890.4 277.9,890.1 278.5,891.6 279.1,892.4 279.7,890.7 280.3,888.2 280.9,888.4 281.5,893.4 282.1,889.5 282.7,889.3 283.3,893.3 283.9,892.7 284.5,890.8 285.1,889.3 285.7,894.8 286.3,891 286.9,890.2 287.5,887.9 288.1,884.5 288.7,884.7 289.3,888.9 289.9,889.2 290.5,887.1 291.1,884.3 291.7,883.5 292.3,885.6 292.9,883.9 293.5,889.4 294.1,891.4 294.7,894.9 295.3,889.8 295.9,885 296.5,882.5 297.1,876.6 297.7,883 298.3,885.4 298.9,888.3 299.5,887.6 300.1,887 300.7,886 301.3,887.1 301.9,888.1 302.5,881.5 303.1,881.3 303.7,879.9 304.3,887.3 304.9,887 305.5,884.1 306.1,878.5 306.7,881 307.3,880.2 307.9,880.4 308.5,879.7 309.1,881 309.7,878.8 310.3,881.6 310.9,879.9 311.5,877.8 312.1,877.7 312.7,877.2 313.3,880.1 313.9,877.4 314.5,878.1 315.1,875.6 315.7,872.8 316.3,878.5 316.9,874.1 317.5,878.2 318.1,877 318.7,870.4 319.3,871.5 319.9,872.8 320.5,871.5 321.1,870.8 321.7,876 322.3,873.7 322.9,874.6 323.5,872.2 324.1,873.3 324.7,870.2 325.3,872 325.9,873.7 326.5,871.6 327.1,868.9 327.7,866.7 328.3,870.3 328.9,870.7 329.5,868 330.1,866 330.7,870.7 331.3,876.2 331.9,867.1 332.5,867.3 333.1,865.5 333.7,855.6 334.3,862.7 334.9,861.6 335.5,867.4 336.1,861.6 336.7,858.4 337.3,859.8 337.9,860.7 338.5,857.9 339.1,858.2 339.7,853.6 340.3,857.4 340.9,862.2 341.5,866.4 342.1,861.4 342.7,859.1 343.3,861.9 343.9,861.8 344.5,863.5 345.1,860.3 345.7,854.8 346.3,855 346.9,854.4 347.5,854.2 348.1,852.6 348.7,846.8 349.3,840.7 349.9,844.3 350.5,839.9 351.1,847.1 351.7,846.3 352.3,839.5 352.9,848 353.5,849 354.1,845.8 354.7,851.7 355.3,850.7 355.9,837.3 356.5,844.2 357.1,842.1 357.7,841 358.3,841.3 358.9,832.9 359.5,831.2 360.1,829.2 360.7,828.9 361.3,830.1 361.9,823.1 362.5,824.2 363.1,831 363.7,828.1 364.3,827 364.9,815.1 365.5,817.8 366.1,818.9 366.7,820.1 367.3,816.7 367.9,821.8 368.5,815.8 369.1,813.3 369.7,811.8 370.3,812.5 370.9,805.3 371.5,810.7 372.1,805.4 372.7,800.1 373.3,796.5 373.9,796.8 374.5,797.2 375.1,793.5 375.7,786.9 376.3,785.4 376.9,778.3 377.5,780.3 378.1,766.8 378.7,751 379.3,768.7 379.9,759.2 380.5,746.7 381.1,748.8 381.7,745.2 382.3,762.1 382.9,747.5 383.5,728 384.1,736.6 384.7,729.7 385.3,739 385.9,711.2 386.5,695.6 387.1,708.4 387.7,703.1 388.3,695 388.9,678.5 389.5,696 390.1,701.4 390.7,671.7 391.3,688 391.9,677 392.5,694.3 393.1,677 393.7,667.3 394.3,673.6 394.9,665.3 395.5,653 396.1,658 396.7,644.1 397.3,633.1 397.9,658.9 398.5,639.7 399.1,632.6 399.7,635.3 400.3,617.4 400.9,615.3 401.5,620.8 402.1,620.5 402.7,625.2 403.3,631.4 403.9,618.3 404.5,623.2 405.1,621.4 405.7,606.6 406.3,612.5 406.9,604.6 407.5,617.9 408.1,612.4 408.7,602.9 409.3,588.6 409.9,595 410.5,588.7 411.1,599 411.7,594.4 412.3,592.5 412.9,610.3 413.5,612.6 414.1,606.1 414.7,620.9 415.3,613.4 415.9,615.2 416.5,621.5 417.1,619 417.7,625.9 418.3,636.4 418.9,657.1 419.5,662.2 420.1,654.2 420.7,670.8 421.3,663.8 421.9,670.3 422.5,678.8 423.1,681.1 423.7,700 424.3,685.5 424.9,676.8 425.5,698 426.1,689.6 426.7,687.9 427.3,672.8 427.9,707.3 428.5,714 429.1,716.7 429.7,722.1 430.3,729 430.9,719.3 431.5,726.2 432.1,717 432.7,722.9 433.3,737 433.9,734.2 434.5,724.7 435.1,738.4 435.7,738.5 436.3,737.7 436.9,748.9 437.5,745.9 438.1,739.9 438.7,748 439.3,768 439.9,750.9 440.5,761.7 441.1,767.6 441.7,767.5 442.3,756.7 442.9,763.5 443.5,770.9 444.1,777.5 444.7,771.2 445.3,772 445.9,789.1 446.5,793.7 447.1,790 447.7,785.8 448.3,792.7 448.9,794 449.5,797.6 450.1,787.7 450.7,794.8 451.3,794.3 451.9,790.1 452.5,797.7 453.1,798 453.7,796.3 454.3,799.7 454.9,791.2 455.5,798.8 456.1,803.5 456.7,804.5 457.3,807.7 457.9,795.3 458.5,793.8 459.1,804.9 459.7,810 460.3,819.4 460.9,811.6 461.5,804.1 462.1,812.1 462.7,804.7 463.3,804.6 463.9,826.7 464.5,819.1 465.1,820.7 465.7,822.4 466.3,828.9 466.9,823.1 467.5,825.5 468.1,814.2 468.7,813 469.3,828.1 469.9,830.1 470.5,825 471.1,822.8 471.7,821.7 472.3,818.9 472.9,829.5 473.5,826.4 474.1,824.6 474.7,824.1 475.3,826.9 475.9,824.4 476.5,823.4 477.1,814.4 477.7,823.1 478.3,831.2 478.9,818.3 479.5,819.1 480.1,825.2 480.7,826.4 481.3,823.1 481.9,812.8 482.5,821.3 483.1,814.5 483.7,816.3 484.3,823.3 484.9,820.7 485.5,827.7 486.1,839 486.7,828 487.3,824.2 487.9,815.4 488.5,814.9 489.1,813 489.7,814.8 490.3,812.4 490.9,814.5 491.5,816.4 492.1,812 492.7,809 493.3,810.2 493.9,819.6 494.5,819.5 495.1,824.2 495.7,823.7 496.3,816.4 496.9,818.4 497.5,809.9 498.1,827 498.7,822 499.3,811.4 499.9,805.2 500.5,810.4 501.1,799 501.7,803.9 502.3,812.4 502.9,808.7 503.5,805.4 504.1,811 504.7,801.2 505.3,805.9 505.9,801.7 506.5,799.6 507.1,805.2 507.7,799.9 508.3,813.2 508.9,802.9 509.5,812.9 510.1,798 510.7,803.4 511.3,793.6 511.9,792 512.5,800.9 513.1,803 513.7,793.2 514.3,803.9 514.9,794.1 515.5,797.4 516.1,799.1 516.7,797.6 517.3,785.1 517.9,802.3 518.5,797 519.1,788.2 519.7,781.7 520.3,776 520.9,778 521.5,788.5 522.1,782.5 522.7,775.8 523.3,779.6 523.9,790.8 524.5,778.5 525.1,775.2 525.7,785.3 526.3,779.1 526.9,772.9 527.5,765.3 528.1,756.8 528.7,757.7 529.3,762 529.9,764.1 530.5,767.8 531.1,768.6 531.7,765.7 532.3,763.3 532.9,752.6 533.5,744 534.1,753.3 534.7,751.4 535.3,752.6 535.9,753.6 536.5,745.9 537.1,745.7 537.7,752.3 538.3,753.1 538.9,747.8 539.5,753.8 540.1,748.1 540.7,741.9 541.3,750.6 541.9,762.4 542.5,746.9 543.1,757.9 543.7,761.5 544.3,759.9 544.9,745.8 545.5,762.6 546.1,751.4 546.7,746.8 547.3,748 547.9,754.1 548.5,751.2 549.1,751.1 549.7,760 550.3,746.9 550.9,745 551.5,758.9 552.1,761.5 552.7,762.7 553.3,750.4 553.9,764 554.5,764.3 555.1,770.5 555.7,752.4 556.3,760 556.9,757.3 557.5,749 558.1,756.6 558.7,769.8 559.3,760.8 559.9,759.9 560.5,771.9 561.1,775.4 561.7,774.7 562.3,764.3 562.9,770.2 563.5,778.3 564.1,769.5 564.7,770.5 565.3,783.6 565.9,789.1 566.5,772 567.1,762.6 567.7,770.9 568.3,777.4 568.9,785.8 569.5,792.4 570.1,789.3 570.7,787.5 571.3,792.9 571.9,789.2 572.5,794.9 573.1,796.8 573.7,816.3 574.3,808 574.9,798 575.5,797.7 576.1,801.4 576.7,797.4 577.3,803.3 577.9,807 578.5,816.7 579.1,812 579.7,810.2 580.3,808.7 580.9,811.9 581.5,819.5 582.1,822.3 582.7,829.4 583.3,824.1 583.9,832.2 584.5,830.5 585.1,828.4 585.7,820 586.3,824.9 586.9,837.1 587.5,842 588.1,838.2 588.7,840.3 589.3,836.2 589.9,836.5 590.5,837.4 591.1,845.4 591.7,844.3 592.3,842.2 592.9,843 593.5,847.7 594.1,847.4 594.7,844.7 595.3,854.9 595.9,850.8 596.5,850.4 597.1,856.8 597.7,855.7 598.3,851.7 598.9,853.3 599.5,848 600.1,848.7 600.7,845.6 601.3,858.3 601.9,851 602.5,859.9 603.1,857 603.7,857.3 604.3,861.5 604.9,864.8 605.5,867.8 606.1,872.3 606.7,869 607.3,870.1 607.9,866.7 608.5,871 609.1,870.1 609.7,868.7 610.3,870.4 610.9,871.5 611.5,873.1 612.1,874.2 612.7,871.8 613.3,872 613.9,876 614.5,870.1 615.1,873.9 615.7,879.7 616.3,868.9 616.9,874.3 617.5,878.8 618.1,874.7 618.7,884.5 619.3,873 619.9,883.1 620.5,885.3 621.1,883.3 621.7,880.3 622.3,881.3 622.9,879 623.5,882.9 624.1,878.8 624.7,881.2 625.3,884.5 625.9,879.8 626.5,881.5 627.1,882.9 627.7,880.3 628.3,886.5 628.9,884.8 629.5,880.2 630.1,883.4 630.7,882.4 631.3,882.9 631.9,884.9 632.5,884 633.1,887.6 633.7,884.8 634.3,888.4 634.9,887 635.5,888.6 636.1,885.6 636.7,885.1 637.3,884.4 637.9,888.9 638.5,891.1 639.1,894.1 639.7,892.2 640.3,889.4 640.9,888.3 641.5,889.7 642.1,889.6 642.7,893.1 643.3,891.9 643.9,887.7 644.5,888.4 645.1,893.1 645.7,891.3 646.3,890.4 646.9,893.1 647.5,890.2 648.1,890 648.7,889.3 649.3,886.9 649.9,892.3 650.5,888.9 651.1,889.8 651.7,890.3 652.3,893.4 652.9,892.3 653.5,891.8 654.1,888.7 654.7,891.3 655.3,889.5 655.9,893.1 656.5,893.8 657.1,893.7 657.7,897.7 658.3,895.1 658.9,894.7 659.5,893.7 660.1,893.3 660.7,895.8 661.3,895.8 661.9,891.4 662.5,895.6 663.1,895.4 663.7,896.1 664.3,894.7 664.9,891 665.5,891.6 666.1,897.6 666.7,894.7 667.3,891.3 667.9,894.3 668.5,892.9 669.1,889.5 669.7,888.4 670.3,890.3 670.9,894.4 671.5,894.3 672.1,894 672.7,895.2 673.3,895.3 673.9,890.3 674.5,893.1 675.1,892.5 675.7,891.8 676.3,893.3 676.9,894.4 677.5,893.9 678.1,891.8 678.7,894.3 679.3,898.8 679.9,893.1 680.5,891.6 681.1,895.6 681.7,896.8 682.3,896.2 682.9,893.7 683.5,897 684.1,894 684.7,893 685.3,894.2 685.9,895.6 686.5,897.5 687.1,897.4 687.7,896.5 688.3,898 688.9,896.9 689.5,897.6 690.1,893.3 690.7,893.1 691.3,897.1 691.9,893.9 692.5,895.5 693.1,896.2 693.7,895.6 694.3,896.1 694.9,898.7 695.5,892.6 696.1,898.6 696.7,901.7 697.3,897.8 697.9,897.3 698.5,899.1 699.1,900.7 699.7,895.6 700.3,897.2 700.9,897.3 701.5,898.6 702.1,898.3 702.7,898.9 703.3,897.1 703.9,897.6 704.5,896.4 705.1,896.5 705.7,897.5 706.3,897.4 706.9,896.3 707.5,900.7 708.1,898 708.7,896 709.3,899.8 709.9,897.5 710.5,899.2 711.1,898.7 711.7,899.1 712.3,898.9 712.9,897.7 713.5,899.2 714.1,901.9 714.7,895.4 715.3,898.5 715.9,899.5 716.5,896.9 717.1,896.9 717.7,902.5 718.3,899.6 718.9,902.9 719.5,900.8 720.1,899.7 720.7,900.4 721.3,900.9 721.9,901.8 722.5,900.6 723.1,899.9 723.7,900.2 724.3,902.2 724.9,901.1 725.5,897.9 726.1,898.4 726.7,900 727.3,898.7 727.9,898.7 728.5,898 729.1,899.3 729.7,900.8 730.3,901.8 730.9,900.8 731.5,903.6 732.1,901.3 732.7,905.8 733.3,902.8 733.9,901.1 734.5,898.7 735.1,895.2 735.7,899.3 736.3,901 736.9,903.3 737.5,898.9 738.1,903.2 738.7,900.6 739.3,900.9 739.9,896.4 740.5,900 741.1,900.1 741.7,901.6 742.3,900.6 742.9,898.9 743.5,902.1 744.1,902.2 744.7,902.1 745.3,902.8 745.9,902.8 746.5,900.6 747.1,898.2 747.7,898.5 748.3,902.9 748.9,902.4 749.5,901.1 750.1,900.2 750.7,900.9 751.3,900.9 751.9,900.3 752.5,900.3 753.1,904.5 753.7,901.8 754.3,899.8 754.9,898.7 755.5,899.8 756.1,902.4 756.7,902.6 757.3,901.1 757.9,901.2 758.5,900.5 759.1,899.7 759.7,903.3 760.3,902.9 760.9,905.3 761.5,900.8 762.1,901.3 762.7,902.8 763.3,901 763.9,899 764.5,899.7 765.1,901.6 765.7,902.2 766.3,901.8 766.9,903.5 767.5,903.6 768.1,902.5 768.7,901.8 769.3,901.5 769.9,902.9 770.5,903.5 771.1,902.3 771.7,902.6 772.3,901.2 772.9,899.5 773.5,900.3 774.1,903.2 774.7,903.4 775.3,904.8 775.9,902.9 776.5,903.9 777.1,904.8 777.7,904 778.3,901.6 778.9,902 779.5,902.4 780.1,901.1 780.7,903.3 781.3,904.1 781.9,902.6 782.5,905.5 783.1,902.6 783.7,902.3 784.3,902.2 784.9,901.8 785.5,903.3 786.1,903.4 786.7,905.6 787.3,904.4 787.9,903.9 788.5,902.5 789.1,900.9 789.7,902.5 790.3,902.1 790.9,904.4 791.5,903.8 792.1,905.9 792.7,904.9 793.3,904.8 793.9,903.9 794.5,903.9 795.1,904.6 795.7,904.8 796.3,902.7 796.9,904.6 797.5,907.4 798.1,903.9 798.7,903 799.3,902.2 799.9,901.6 800.5,905.1 801.1,904.1 801.7,904.5 802.3,907 802.9,907.5 803.5,903.2 804.1,905.2 804.7,905 805.3,904.6 805.9,904.6 806.5,904.2 807.1,906.2 807.7,905.1 808.3,904.7 808.9,905.9 809.5,905.5 810.1,904.8 810.7,904.8 811.3,906.5 811.9,904.9 812.5,903.6 813.1,902.5 813.7,902.9 814.3,902.3 814.9,903.8 815.5,903.8 816.1,901 816.7,903.5 817.3,904.8 817.9,904 818.5,902.7 819.1,905.2 819.7,902.8 820.3,901.6 820.9,902 821.5,903.7 822.1,905.4 822.7,905.7 823.3,904 823.9,901.9 824.5,902.3 825.1,902.2 825.7,902.8 826.3,901.1 826.9,903.6 827.5,904.6 828.1,903.7 828.7,904 829.3,902 829.9,901.1 830.5,902.6 831.1,905.3 831.7,905.2 832.3,903.4 832.9,905.1 833.5,903.6 834.1,905.7 834.7,904.4 835.3,903.1 835.9,904.3 836.5,902.3 837.1,901.6 837.7,901.1 838.3,903.4 838.9,903.3 839.5,903.1 840.1,903 840.7,905.2 841.3,902.8 841.9,902.4 842.5,905.3 843.1,905.7 843.7,903.7 844.3,900.6 844.9,902.1 845.5,904 846.1,903.7 846.7,905.2 847.3,901.6 847.9,903.7 848.5,902.6 849.1,904.9 849.7,903.5 850.3,904.4 850.9,902 851.5,900.5 852.1,900.9 852.7,901.6 853.3,901.6 853.9,904.8 854.5,905.3 855.1,903.4 855.7,901.4 856.3,902.3 856.9,902.2 857.5,905 858.1,903.8 858.7,903.6 859.3,901.9 859.9,899.5 860.5,900.9 861.1,901 861.7,903.1 862.3,902.8 862.9,901.4 863.5,902.3 864.1,904.7 864.7,901.3 865.3,900.9 865.9,901.9 866.5,901.3 867.1,901.8 867.7,903.6 868.3,904.9 868.9,900.1 869.5,902 870.1,902.5 870.7,902.2 871.3,902 871.9,902 872.5,903.7 873.1,901.8 873.7,902 874.3,902.2 874.9,902.3 875.5,902.2 876.1,903.7 876.7,902.4 877.3,902.4 877.9,901.8 878.5,900.3 879.1,900.3 879.7,900.2 880.3,901.9 880.9,900.7 881.5,900.2 882.1,902.2 882.7,902.4 883.3,899.7 883.9,904.2 884.5,902.3 885.1,902 885.7,903.5 886.3,902 886.9,901.4 887.5,904.9 888.1,900.6 888.7,901.6 889.3,902.8 889.9,900.2 890.5,901.4 891.1,902.9 891.7,905.4 892.3,900.8 892.9,901.6 893.5,902.7 894.1,901.7 894.7,899.9 895.3,902 895.9,902 896.5,902.7 897.1,903.8 897.7,903.6 898.3,902.6 898.9,902 899.5,899.9 900.1,901.2 900.7,901.9 901.3,901.1 901.9,901.5 902.5,900.7 903.1,904.4 903.7,905.4 904.3,901.6 904.9,902.1 905.5,901.7 906.1,903.7 906.7,902.7 907.3,901.8 907.9,901.3 908.5,901.6 909.1,900.2 909.7,902.3 910.3,900.8 910.9,902.4 911.5,902.2 912.1,903.4 912.7,902.1 913.3,903.1 913.9,900.6 914.5,902.3 915.1,901.5 915.7,901.9 916.3,902 916.9,902.7 917.5,898.7 918.1,901.3 918.7,899.6 919.3,902.7 919.9,898.5 920.5,899.1 921.1,899.1 921.7,903.5 922.3,899.9 922.9,901.3 923.5,900.3 924.1,898.4 924.7,900.7 925.3,902.4 925.9,901.6 926.5,902.9 927.1,901.1 927.7,901.3 928.3,900.9 928.9,902.3 929.5,904.6 930.1,902.4 930.7,901.6 931.3,900.2 931.9,900.3 932.5,903.2 933.1,899.5 933.7,899.4 934.3,900.7 934.9,900.9 935.5,903.6 936.1,897.8 936.7,901.2 937.3,902 937.9,899.2 938.5,899.7 939.1,901.9 939.7,903.5 940.3,899.3 940.9,898.2 941.5,902.4 942.1,903.4 942.7,900 943.3,897.2 943.9,902.4 944.5,900.9 945.1,902.4 945.7,900.6 946.3,899.7 946.9,899.9 947.5,903.1 948.1,902.6 948.7,896.8 949.3,898.6 949.9,902.9 950.5,899.6 951.1,897.7 951.7,899.7 952.3,899.8 952.9,899.6 953.5,899 954.1,899.1 954.7,899 955.3,900 955.9,898.3 956.5,898.9 957.1,899.6 957.7,901.9 958.3,900.5 958.9,899.5 959.5,900.4 960.1,900.5 960.7,901.4 961.3,900.9 961.9,902.8 962.5,901.9 963.1,899.1 963.7,898.3 964.3,900.4 964.9,899.8 965.5,898.1 966.1,895.1 966.7,894.6 967.3,898.5 967.9,899.8 968.5,899.2 969.1,895.8 969.7,899 970.3,896.8 970.9,898 971.5,897.8 972.1,895.4 972.7,894.8 973.3,892.1 973.9,893.5 974.5,892.6 975.1,896.5 975.7,896.5 976.3,897.7 976.9,896.4 977.5,894.3 978.1,895.6 978.7,894.5 979.3,896.1 979.9,895.2 980.5,892.5 981.1,894 981.7,894.1 982.3,893.5 982.9,896 983.5,897.3 984.1,892.9 984.7,891.4 985.3,887.7 985.9,891.4 986.5,890.7 987.1,887.3 987.7,892.1 988.3,892.9 988.9,889.8 989.5,889.7 990.1,888.8 990.7,891.6 991.3,887 991.9,889.5 992.5,894.4 993.1,890.5 993.7,890.3 994.3,888.3 994.9,885.6 995.5,887.9 996.1,888.5 996.7,885.3 997.3,888.2 997.9,890.6 998.5,889.2 999.1,882.2 999.7,882.1 1000.3,881.3 1000.9,887.6 1001.5,887.2 1002.1,886.3 1002.7,881.5 1003.3,880.2 1003.9,883.2 1004.5,883 1005.1,880.3 1005.7,882.5 1006.3,883.8 1006.9,881.9 1007.5,877.2 1008.1,873.9 1008.7,878.6 1009.3,880 1009.9,878.4 1010.5,877.1 1011.1,876.4 1011.7,879.8 1012.3,877.7 1012.9,876.9 1013.5,873.3 1014.1,873.8 1014.7,875.3 1015.3,871.4 1015.9,870 1016.5,873 1017.1,877.5 1017.7,875.1 1018.3,877.5 1018.9,872.3 1019.5,869.8 1020.1,866 1020.7,868.6 1021.3,874.8 1021.9,871.7 1022.5,871.9 1023.1,871.1 1023.7,867.9 1024.3,866.3 1024.9,867 1025.5,868.5 1026.1,867.4 1026.7,866.6 1027.3,864.2 1027.9,860.2 1028.5,860.5 1029.1,858.7 1029.7,863.3 1030.3,853 1030.9,859.4 1031.5,868.4 1032.1,858.3 1032.7,853.7 1033.3,857.9 1033.9,862.4 1034.5,857.4 1035.1,858.9 1035.7,856.6 1036.3,856 1036.9,867.7 1037.5,856.6 1038.1,851.8 1038.7,851.7 1039.3,854.9 1039.9,855.4 1040.5,856.1 1041.1,852.4 1041.7,846.2 1042.3,852.6 1042.9,849.9 1043.5,848.3 1044.1,843.5 1044.7,846.1 1045.3,846.2 1045.9,847.8 1046.5,842.8 1047.1,848.1 1047.7,848.3 1048.3,842.9 1048.9,843.8 1049.5,843.9 1050.1,848.9 1050.7,836.1 1051.3,842.2 1051.9,838.4 1052.5,843.5 1053.1,848.7 1053.7,843.3 1054.3,844.9 1054.9,842.7 1055.5,853.6 1056.1,850.9 1056.7,849.5 1057.3,838.7 1057.9,839.5 1058.5,848.7 1059.1,844.6 1059.7,844.2 1060.3,846 1060.9,841.1 1061.5,849 1062.1,847.8 1062.7,849.2 1063.3,845.8 1063.9,850 1064.5,847.2 1065.1,854.3 1065.7,856.6 1066.3,856.1 1066.9,855 1067.5,853.7 1068.1,842.7 1068.7,855.2 1069.3,853.6 1069.9,854.7 1070.5,853.3 1071.1,849.7 1071.7,853.8 1072.3,860.1 1072.9,863.2 1073.5,856 1074.1,855.7 1074.7,864 1075.3,858.6 1075.9,868.1 1076.5,862.1 1077.1,859.1 1077.7,866.6 1078.3,869.2 1078.9,860.2 1079.5,869.1 1080.1,865.6 1080.7,870.6 1081.3,864.8 1081.9,861.2 1082.5,868.8 1083.1,872.7 1083.7,877.4 1084.3,876.8 1084.9,873.2 1085.5,870 1086.1,869.4 1086.7,870.5 1087.3,869.8 1087.9,871 1088.5,866 1089.1,874.3 1089.7,876.9 1090.3,884.7 1090.9,880.3 1091.5,876.8 1092.1,879.3 1092.7,875.3 1093.3,876.4 1093.9,875.1 1094.5,884.3 1095.1,883.1 1095.7,878.7 1096.3,882 1096.9,885.5 1097.5,885.1 1098.1,884.4 1098.7,881.4 1099.3,882.1 1099.9,884.8 1100.5,886.9 1101.1,882.7 1101.7,882.4 1102.3,887.7 1102.9,884.1 1103.5,888.5 1104.1,887.5 1104.7,889.4 1105.3,891.7 1105.9,889.5 1106.5,888.8 1107.1,884.8 1107.7,885.5 1108.3,889.4 1108.9,892.3 1109.5,892.8 1110.1,894.4 1110.7,889.9 1111.3,889.3 1111.9,891.1 1112.5,889 1113.1,888.3 1113.7,886.7 1114.3,890.7 1114.9,887.2 1115.5,889.7 1116.1,886.7 1116.7,891.4 1117.3,888 1117.9,891 1118.5,886.4 1119.1,889 1119.7,892.7 1120.3,889 1120.9,890.3 1121.5,888.9 1122.1,885.5 1122.7,891.1 1123.3,891.9 1123.9,889.1 1124.5,892.1 1125.1,889.6 1125.7,889.2 1126.3,891.3 1126.9,891.2 1127.5,896.5 1128.1,889.8 1128.7,893.8 1129.3,894.3 1129.9,888 1130.5,888.4 1131.1,893.3 1131.7,892.2 1132.3,894.1 1132.9,895.7 1133.5,892.5 1134.1,890.1 1134.7,887.4 1135.3,892.9 1135.9,891.9 1136.5,894.3 1137.1,894.1 1137.7,891.8 1138.3,897.8 1138.9,897.4 1139.5,896.2 1140.1,892.2 1140.7,893.2 1141.3,893.3 1141.9,893.5 1142.5,892.6 1143.1,895.7 1143.7,895.9 1144.3,895.9 1144.9,894.8 1145.5,898 1146.1,895.5 1146.7,890 1147.3,893.6 1147.9,895.9 1148.5,897.8 1149.1,895.7 1149.7,895.4 1150.3,895.1 1150.9,897.4 1151.5,895.6 1152.1,895 1152.7,895.2 1153.3,897.5 1153.9,895.5 1154.5,893.8 1155.1,897.6 1155.7,896.1 1156.3,897.9 1156.9,898.5 1157.5,900.2 1158.1,899.7 1158.7,896.9 1159.3,897 1159.9,895.9 1160.5,900.9 1161.1,899.8 1161.7,900.9 1162.3,897.6 1162.9,895.1 1163.5,900.9 1164.1,899.3 1164.7,899.1 1165.3,899.3 1165.9,900.4 1166.5,899.9 1167.1,896.9 1167.7,900.8 1168.3,898.8 1168.9,899.2 1169.5,902.9 1170.1,901.9 1170.7,899.2 1171.3,896.9 1171.9,900.2 1172.5,901.3 1173.1,900.2 1173.7,898.3 1174.3,898.8 1174.9,898.6 1175.5,901.2 1176.1,902.7 1176.7,902.9 1177.3,900.4 1177.9,901.8 1178.5,902.4 1179.1,900.9 1179.7,901.9 1180.3,905.2 1180.9,903 1181.5,903.4 1182.1,901.7 1182.7,901.8 1183.3,899.7 1183.9,902.3 1184.5,904.8 1185.1,906.4 1185.7,905.2 1186.3,904.1 1186.9,903 1187.5,902 1188.1,902.8 1188.7,903.8 1189.3,902.4 1189.9,904.2 1190.5,901.7 1191.1,900.3 1191.7,901.2 1192.3,900.5 1192.9,901.4 1193.5,904.9 1194.1,903.6 1194.7,904.2 1195.3,905.7 1195.9,905.7 1196.5,903.6 1197.1,905.7 1197.7,904.6 1198.3,904 1198.9,904.2 1199.5,901.7 1200.1,902.4 1200.7,903.7 1201.3,904.6 1201.9,903.4 1202.5,903.8 1203.1,905.5 1203.7,906.2 1204.3,905.5 1204.9,905.7 1205.5,903.5 1206.1,903.4 1206.7,904.2 1207.3,903.4 1207.9,903.4 1208.5,906 1209.1,903.7 1209.7,902.5 1210.3,904.7 1210.9,906.6 1211.5,904.6 1212.1,905.5 1212.7,903.4 1213.3,902.9 1213.9,902.7 1214.5,903.9 1215.1,906.2 1215.7,902.9 1216.3,905.7 1216.9,902.7 1217.5,903.5 1218.1,905.1 1218.7,905 1219.3,904 1219.9,901.6 1220.5,903.8 1221.1,903 1221.7,907.2 1222.3,904.1 1222.9,903.8 1223.5,902.1 1224.1,902.6 1224.7,902.1 1225.3,904.9 1225.9,903.8 1226.5,904.4 1227.1,902.9 1227.7,903.3 1228.3,905.4 1228.9,902.3 1229.5,901.2 1230.1,903.8 1230.7,902.2 1231.3,903.2 1231.9,904.9 1232.5,903.1 1233.1,904.8 1233.7,903.4 1234.3,906.1 1234.9,905.9 1235.5,903.4 1236.1,903.3 1236.7,902.7 1237.3,904.2 1237.9,905.2 1238.5,902.2 1239.1,904.6 1239.7,902 1240.3,902 1240.9,901.6 1241.5,906.5 1242.1,904.4 1242.7,904.1 1243.3,903.2 1243.9,904.8 1244.5,901.1 1245.1,903.9 1245.7,906.9 1246.3,903.8 1246.9,903.9 1247.5,904.6 1248.1,902.8 1248.7,903.8 1249.3,905.2 1249.9,904.3 1250.5,904.2 1251.1,903.3 1251.7,904 1252.3,904.1 1252.9,905.8 1253.5,904.8 1254.1,902.8 1254.7,900 1255.3,904.1 1255.9,904.4 1256.5,901.7 1257.1,899.9 1257.7,901.3 1258.3,904.1 1258.9,901.7 1259.5,902.2 1260.1,903.5 1260.7,904.8 1261.3,903.1 1261.9,902.6 1262.5,902.3 1263.1,905.3 1263.7,904.6 1264.3,902.4 1264.9,900.2 1265.5,901 1266.1,902.9 1266.7,901.5 1267.3,903.5 1267.9,903 1268.5,902.8 1269.1,903.2 1269.7,902.7 1270.3,900.6 1270.9,901.6 1271.5,905.1 1272.1,900.2 1272.7,900.8 1273.3,903 1273.9,901.2 1274.5,899.6 1275.1,899 1275.7,902 1276.3,903.2 1276.9,903.6 1277.5,901.6 1278.1,902.3 1278.7,899.3 1279.3,900.5 1279.9,899.5 1280.5,900.8 1281.1,902 1281.7,902.1 1282.3,899.1 1282.9,901.9 1283.5,899.3 1284.1,898 1284.7,898.9 1285.3,897.2 1285.9,899.4 1286.5,900.1 1287.1,899.4 1287.7,900.3 1288.3,899 1288.9,898.8 1289.5,896.7 1290.1,898.6 1290.7,897.4 1291.3,897.9 1291.9,898.6 1292.5,898.6 1293.1,895.3 1293.7,895.2 1294.3,897.6 1294.9,899.3 1295.5,899.3 1296.1,900.3 1296.7,900.9 1297.3,899.2 1297.9,897.6 1298.5,895.5 1299.1,895.4 1299.7,896.4 1300.3,897.8 1300.9,897.7 1301.5,897.1 1302.1,896.9 1302.7,898.1 1303.3,897.4 1303.9,897.3 1304.5,897 1305.1,895 1305.7,894.1 1306.3,896.8 1306.9,896.8 1307.5,895.2 1308.1,895.3 1308.7,899.7 1309.3,894.3 1309.9,894.4 1310.5,895 1311.1,892.4 1311.7,894.9 1312.3,898.4 1312.9,896.8 1313.5,895.6 1314.1,895.1 1314.7,894.1 1315.3,895.1 1315.9,892.6 1316.5,891.6 1317.1,892.6 1317.7,894.2 1318.3,893 1318.9,892.4 1319.5,887.1 1320.1,893.7 1320.7,896.9 1321.3,894 1321.9,889.2 1322.5,887.4 1323.1,889.2 1323.7,886.8 1324.3,889.7 1324.9,887.5 1325.5,890.5 1326.1,890.5 1326.7,882.5 1327.3,886.4 1327.9,884.1 1328.5,881.8 1329.1,883.4 1329.7,884.9 1330.3,887 1330.9,881.3 1331.5,887.2 1332.1,890 1332.7,886.2 1333.3,884.8 1333.9,882.4 1334.5,879.2 1335.1,883.1 1335.7,883.1 1336.3,884.4 1336.9,888.7 1337.5,883.6 1338.1,882 1338.7,883.5 1339.3,875 1339.9,874.1 1340.5,875.9 1341.1,875.6 1341.7,878.6 1342.3,876.6 1342.9,882 1343.5,881.5 1344.1,878 1344.7,874 1345.3,876.3 1345.9,876 1346.5,870.2 1347.1,873.6 1347.7,874.8 1348.3,873.5 1348.9,877.2 1349.5,875.2 1350.1,868.1 1350.7,869.3 1351.3,866.6 1351.9,869.7 1352.5,865.8 1353.1,870.5 1353.7,869.3 1354.3,870 1354.9,865 1355.5,860.8 1356.1,870.2 1356.7,865.2 1357.3,868.8 1357.9,865.8 1358.5,866.3 1359.1,869.5 1359.7,864.7 1360.3,865.9 1360.9,856.4 1361.5,862.8 1362.1,859.6 1362.7,859.2 1363.3,859.7 1363.9,861.6 1364.5,864.6 1365.1,852.6 1365.7,857.2 1366.3,856.3 1366.9,862.1 1367.5,857.2 1368.1,859.1 1368.7,856.6 1369.3,860.4 1369.9,861.4 1370.5,856.1 1371.1,855.9 1371.7,851.2 1372.3,857.4 1372.9,859.6 1373.5,855.1 1374.1,858.9 1374.7,847 1375.3,846.1 1375.9,848.4 1376.5,852.5 1377.1,854.8 1377.7,854.6 1378.3,854.8 1378.9,857.1 1379.5,852.1 1380.1,847.9 1380.7,849.4 1381.3,860.3 1381.9,845.2 1382.5,852.3 1383.1,859.7 1383.7,855.8 1384.3,850.3 1384.9,853.4 1385.5,857.8 1386.1,858.5 1386.7,851.1 1387.3,856.5 1387.9,856.1 1388.5,859.6 1389.1,860.4 1389.7,853 1390.3,848.8 1390.9,856.7 1391.5,863 1392.1,859.4 1392.7,858.5 1393.3,865.1 1393.9,854 1394.5,859.1 1395.1,855 1395.7,856.9 1396.3,858.6 1396.9,863 1397.5,854.7 1398.1,854.5 1398.7,852.1 1399.3,859.4 1399.9,857.7 1400.5,860 1401.1,855.5 1401.7,858.6 1402.3,864 1402.9,861 1403.5,863.6 1404.1,863.6 1404.7,859.9 1405.3,856.7 1405.9,865.5 1406.5,864.8 1407.1,866.1 1407.7,856 1408.3,855.9 1408.9,855.4 1409.5,861.3 1410.1,869.1 1410.7,868.5 1411.3,866.6 1411.9,867.6 1412.5,869.7 1413.1,867.1 1413.7,869.2 1414.3,867.9 1414.9,861 1415.5,867.3 1416.1,873.8 1416.7,869.2 1417.3,869.4 1417.9,868.4 1418.5,869.9 1419.1,875.1 1419.7,871.4 1420.3,867.7 1420.9,862.3 1421.5,869.4 1422.1,866.8 1422.7,868.4 1423.3,877.2 1423.9,877.4 1424.5,870.9 1425.1,878.6 1425.7,878.5 1426.3,875.6 1426.9,878.9 1427.5,873 1428.1,873.5 1428.7,873.4 1429.3,875.5 1429.9,880.8 1430.5,875.4 1431.1,875.2 1431.7,876.4 1432.3,879.7 1432.9,879.2 1433.5,881.8 1434.1,877.4 1434.7,875.4 1435.3,877.7 1435.9,879.2 1436.5,877.1 1437.1,880.9 1437.7,884.9 1438.3,878.8 1438.9,880.2 1439.5,883.4 1440.1,878 1440.7,876.4 1441.3,876.3 1441.9,880.6 1442.5,881.3 1443.1,879.5 1443.7,880.3 1444.3,883.8 1444.9,882.1 1445.5,875.9 1446.1,879 1446.7,880.3 1447.3,881.7 1447.9,879 1448.5,877.4 1449.1,877.2 1449.7,874.2 1450.3,878.5 1450.9,878 1451.5,880.2 1452.1,876.5 1452.7,877.3 1453.3,875.9 1453.9,876.1 1454.5,880.6 1455.1,878.3 1455.7,879.7 1456.3,875.9 1456.9,877.9 1457.5,873.5 1458.1,876.2 1458.7,877 1459.3,880 1459.9,879 1460.5,878.1 1461.1,880.6 1461.7,879.1 1462.3,879.9 1462.9,880.3 1463.5,877.7 1464.1,876.8 1464.7,878.2 1465.3,876.5 1465.9,878.9 1466.5,881.3 1467.1,880.3 1467.7,876 1468.3,873.2 1468.9,876.5 1469.5,877.4 1470.1,880.5 1470.7,876.6 1471.3,876.9 1471.9,879.3 1472.5,876.2 1473.1,877.4 1473.7,883.2 1474.3,883 1474.9,880.1 1475.5,878 1476.1,874.8 1476.7,878.6 1477.3,877.9 1477.9,877.8 1478.5,875.9 1479.1,877 1479.7,876.9 1480.3,878.9 1480.9,882 1481.5,878.4 1482.1,872.1 1482.7,873.1 1483.3,872 1483.9,874.9 1484.5,879.4 1485.1,879.3 1485.7,876.8 1486.3,878.7 1486.9,875.9 1487.5,873.8 1488.1,874.1 1488.7,877 1489.3,883 1489.9,877.3 1490.5,883.9 1491.1,884.9 1491.7,881 1492.3,880.8 1492.9,879.8 1493.5,881.8 1494.1,884 1494.7,883.1 1495.3,886 1495.9,886.8 1496.5,884.8 1497.1,884.5 1497.7,883.8 1498.3,884.4 1498.9,881.4 1499.5,885 1500.1,884.9 1500.7,883.4 1501.3,889.9 1501.9,883 1502.5,882.7 1503.1,885.1 1503.7,880.4 1504.3,882.5 1504.9,881.5 1505.5,883.1 1506.1,885.9 1506.7,887.8 1507.3,890.1 1507.9,889.9 1508.5,890.7 1509.1,889.1 1509.7,887 1510.3,890.2 1510.9,886.9 1511.5,887 1512.1,892.1 1512.7,891 1513.3,889.7 1513.9,891 1514.5,890.9 1515.1,886.1 1515.7,888.2 1516.3,886.7 1516.9,889.3 1517.5,888.7 1518.1,893.1 1518.7,891.5 1519.3,888.5 1519.9,889.7 1520.5,887.8 1521.1,890.6 1521.7,892.2 1522.3,891.2 1522.9,886.7 1523.5,890.1 1524.1,892.6 1524.7,892.9 1525.3,894 1525.9,889.6 1526.5,892.5 1527.1,890.9 1527.7,892.6 1528.3,893.6 1528.9,894 1529.5,891.7 1530.1,892.7 1530.7,890 1531.3,889.8 1531.9,893.9 1532.5,892.9 1533.1,889.7 1533.7,891.3 1534.3,894 1534.9,897.5 1535.5,896.9 1536.1,895.5 1536.7,890.7 1537.3,893.7 1537.9,895.6 1538.5,895.7 1539.1,895.6 1539.7,895 1540.3,899 1540.9,898.6 1541.5,895.2 1542.1,893.9 1542.7,899.1 1543.3,895.4 1543.9,898.5 1544.5,899.7 1545.1,894.7 1545.7,896.2 1546.3,895.7 1546.9,897.3 1547.5,897.8 1548.1,900.6 1548.7,898.4 1549.3,897.3 1549.9,899 1550.5,896.7 1551.1,897 1551.7,901.2 1552.3,896.3 1552.9,896.4 1553.5,897.3 1554.1,895.2 1554.7,894 1555.3,899.2 1555.9,896.9 1556.5,897 1557.1,897.3 1557.7,896.4 1558.3,896.5 1558.9,899.5 1559.5,903.5 1560.1,901.2 1560.7,900.3 1561.3,896.9 1561.9,898.7 1562.5,897.7 1563.1,900.7 1563.7,899.6 1564.3,899.9 1564.9,899.8 1565.5,898.8 1566.1,897.7 1566.7,900.7 1567.3,898.1 1567.9,898.3 1568.5,899.8 1569.1,899.7 1569.7,901.5 1570.3,902.9 1570.9,901.9 1571.5,901.7 1572.1,901.7 1572.7,902.4 1573.3,898.9 1573.9,901.6 1574.5,900.1 1575.1,899.7 1575.7,901.6 1576.3,901.6 1576.9,903.2 1577.5,903.5 1578.1,899 1578.7,902.2 1579.3,905.7 1579.9,904.7 1580.5,905.1 1581.1,902.9 1581.7,900.5 1582.3,901.1 1582.9,904.1 1583.5,904.5 1584.1,902.3 1584.7,902.8 1585.3,903.3 1585.9,900.9 1586.5,903 1587.1,906.3 1587.7,907.2 1588.3,904.5 1588.9,906.3 1589.5,903.4 1590.1,902.3 1590.7,901 1591.3,905 1591.9,904.4 1592.5,907.5 1593.1,905.4 1593.7,904.4 1594.3,902.4 1594.9,906.2 1595.5,904.5 1596.1,904 1596.7,902 1597.3,905.9 1597.9,906.4 1598.5,904.4 1599.1,905.2 1599.7,905.9 1600.3,906.7 1600.9,906 1601.5,907.7 1602.1,905.3 1602.7,904.5 1603.3,904.2 1603.9,901.8 1604.5,904.2 1605.1,907 1605.7,906.1 1606.3,904.8 1606.9,905.7 1607.5,903.1 1608.1,905.2 1608.7,906.8 1609.3,907.1" fill="none" stroke="#00a800" stroke-width="4.4" stroke-linejoin="round"/>
<path d="M245.5,1281.1 249.5,1285.3 253.5,1288.1 257.5,1284.9 261.5,1286.6 265.5,1277 269.5,1278 273.5,1287.2 277.5,1285.1 281.5,1282.8 285.5,1275.2 289.5,1266.1 293.5,1268.3 297.5,1279.8 301.5,1286.8 305.5,1279.2 309.5,1279.7 313.5,1274.6 317.5,1266 321.5,1253.1 325.5,1246.8 329.5,1241.6 333.5,1238.9 337.5,1208.5 341.5,1202.6 345.5,1195.9 349.5,1171.2 353.5,1167.9 357.5,1160.5 361.5,1171.5 365.5,1170.1 369.5,1173.8 373.5,1180.3 377.5,1179.3 381.5,1179.4 385.5,1171.3 389.5,1162.9 393.5,1166.3 397.5,1168.9 401.5,1160.8 405.5,1162.3 409.5,1169.9 413.5,1169.8 417.5,1159.2 421.5,1169.7 425.5,1180.7 429.5,1166.2 433.5,1159.9 437.5,1156.3 441.5,1160.7 445.5,1153.5 449.5,1147.3 453.5,1136.2 457.5,1126.9 461.5,1131 465.5,1119.2 469.5,1100 473.5,1104.4 477.5,1095.3 481.5,1082.5 485.5,1065.6 489.5,1060.1 493.5,1066.1 497.5,1081.8 501.5,1104.4 505.5,1108.6 509.5,1097.7 513.5,1098.4 517.5,1119.3 521.5,1127.2 525.5,1138 529.5,1153.9 533.5,1140.8 537.5,1153.6 541.5,1166.2 545.5,1166.6 549.5,1168.9 553.5,1181.3 557.5,1192.6 561.5,1202.1 565.5,1216.8 569.5,1222.9 573.5,1231.3 577.5,1243.8 581.5,1245.3 585.5,1236.9 589.5,1250.8 593.5,1256.7 597.5,1261.3 601.5,1260.2 605.5,1260.5 609.5,1263.3 613.5,1267.4 617.5,1272.3 621.5,1277.4 625.5,1280.2 629.5,1277.6 633.5,1273.5 637.5,1275.5 641.5,1274.5 645.5,1283.5 649.5,1283.2 653.5,1285.6 657.5,1281.4 661.5,1277.4 665.5,1281.9 669.5,1282.4 673.5,1283.5 677.5,1284.4 681.5,1291.2 685.5,1287.5 689.5,1285.9 693.5,1279.6 697.5,1282.4 701.5,1279.9 705.5,1282.5 709.5,1276.4 713.5,1276.5 717.5,1286.8 721.5,1290.8 725.5,1291.8 729.5,1291.4 733.5,1287.4 737.5,1285.7 741.5,1288.3 745.5,1287.4 749.5,1284.3 753.5,1282.8 757.5,1281.8 761.5,1284.5 765.5,1281.7 769.5,1284.5 773.5,1287.3 777.5,1287 781.5,1282.9 785.5,1279 789.5,1277.7 793.5,1277.1 797.5,1273.7 801.5,1279.3 805.5,1283.2 809.5,1286.7 813.5,1282.9 817.5,1285.7 821.5,1283.9 825.5,1289.6 829.5,1289.3 833.5,1291.8 837.5,1292.4 841.5,1291.2 845.5,1288 849.5,1286.7 853.5,1291.4 857.5,1288.2 861.5,1288.3 865.5,1286.5 869.5,1286.7 873.5,1289.6 877.5,1290.9 881.5,1294.2 885.5,1294.7 889.5,1292.8 893.5,1291.2 897.5,1294.7 901.5,1289.5 905.5,1289.7 909.5,1294.6 913.5,1294.5 917.5,1296.4 921.5,1298.3 925.5,1296.9 929.5,1294.1 933.5,1294.4 937.5,1294.5 941.5,1296.3 945.5,1294.1 949.5,1293.3 953.5,1297.7 957.5,1298.3 961.5,1288.2 965.5,1291.8 969.5,1286.8 973.5,1285.8 977.5,1288.7 981.5,1287.9 985.5,1282.5 989.5,1283.9 993.5,1286.8 997.5,1287.1 1001.5,1274.9 1005.5,1265.9 1009.5,1264.1 1013.5,1253 1017.5,1210.5 1021.5,1198.8 1025.5,1160.1 1029.5,1144.9 1033.5,1139.3 1037.5,1074.6 1041.5,1051.4 1045.5,1042.6 1049.5,1020.2 1053.5,1028.6 1057.5,1041.7 1061.5,1052.9 1065.5,1097 1069.5,1135.7 1073.5,1169.9 1077.5,1205.7 1081.5,1230 1085.5,1246.6 1089.5,1257.7 1093.5,1264.4 1097.5,1269.7 1101.5,1280.7 1105.5,1276.5 1109.5,1276.4 1113.5,1280 1117.5,1275.8 1121.5,1280.7 1125.5,1286 1129.5,1292.5 1133.5,1283.5 1137.5,1289.9 1141.5,1293.7 1145.5,1295.2 1149.5,1297.2 1153.5,1296.1 1157.5,1293.1 1161.5,1293.1 1165.5,1292.1 1169.5,1300.1 1173.5,1296 1177.5,1298.3 1181.5,1296.7 1185.5,1299.4 1189.5,1300 1193.5,1303.4 1197.5,1301.5 1201.5,1296.2 1205.5,1296.3 1209.5,1295.1 1213.5,1297.2 1217.5,1290.6 1221.5,1295.1 1225.5,1295.9 1229.5,1289 1233.5,1291.2 1237.5,1296.9 1241.5,1295.9 1245.5,1291.6 1249.5,1295.8 1253.5,1293.3 1257.5,1290.1 1261.5,1287.4 1265.5,1285.1 1269.5,1280.6 1273.5,1279.3 1277.5,1282.6 1281.5,1284.2 1285.5,1287.4 1289.5,1280.5 1293.5,1275.5 1297.5,1279.5 1301.5,1280.6 1305.5,1279.1 1309.5,1276 1313.5,1271.8 1317.5,1274.4 1321.5,1270.1 1325.5,1272.7 1329.5,1270.4 1333.5,1266.4 1337.5,1268.6 1341.5,1256.8 1345.5,1255.9 1349.5,1255.1 1353.5,1248.9 1357.5,1239.3 1361.5,1223.8 1365.5,1225.2 1369.5,1234.3 1373.5,1231.4 1377.5,1228.5 1381.5,1225.9 1385.5,1230.1 1389.5,1228.4 1393.5,1222.1 1397.5,1223.2 1401.5,1230 1405.5,1236.7 1409.5,1234.4 1413.5,1239.5 1417.5,1241.6 1421.5,1241.9 1425.5,1245.1 1429.5,1243.5 1433.5,1241.2 1437.5,1244 1441.5,1239.9 1445.5,1238.8 1449.5,1234.6 1453.5,1234.5 1457.5,1231 1461.5,1227.6 1465.5,1224.8 1469.5,1213.3 1473.5,1213.9 1477.5,1221.1 1481.5,1219.9 1485.5,1218.1 1489.5,1224.8 1493.5,1230.5 1497.5,1232 1501.5,1240.6 1505.5,1246.2 1509.5,1245.7 1513.5,1251.2 1517.5,1253.7 1521.5,1252.9 1525.5,1252.7 1529.5,1264.2 1533.5,1266.7 1537.5,1268.6 1541.5,1271.3 1545.5,1271.9 1549.5,1277 1553.5,1279.2 1557.5,1283.4 1561.5,1284.1 1565.5,1282.7 1569.5,1284.2 1573.5,1285.2 1577.5,1281.5 1581.5,1286.2 1585.5,1280.6 1589.5,1285 1593.5,1290.1 1597.5,1290.2 1601.5,1288.9 1605.5,1288.2" fill="none" stroke="#e2aa2c" stroke-width="4.0" stroke-linejoin="round"/>
<path d="M245.5,1739.4 246.5,1739.9 247.5,1739.7 248.5,1738.1 249.5,1739.1 250.5,1739.6 251.5,1739.5 252.5,1733.7 253.5,1736.9 254.5,1737 255.5,1737.7 256.5,1738.3 257.5,1739.3 258.5,1738.8 259.5,1737.6 260.5,1737.8 261.5,1740.4 262.5,1736.7 263.5,1738 264.5,1739.9 265.5,1738 266.5,1734.3 267.5,1737.9 268.5,1736.7 269.5,1737.1 270.5,1738.8 271.5,1737.9 272.5,1736.7 273.5,1738.5 274.5,1737.7 275.5,1737.1 276.5,1737.4 277.5,1737.3 278.5,1736.3 279.5,1736.1 280.5,1736.8 281.5,1735.2 282.5,1734.7 283.5,1738.7 284.5,1736.2 285.5,1736.6 286.5,1736.4 287.5,1736.6 288.5,1736.6 289.5,1736.6 290.5,1735.2 291.5,1738 292.5,1735.3 293.5,1738.1 294.5,1733.3 295.5,1734.7 296.5,1737.9 297.5,1736.1 298.5,1735.2 299.5,1736.8 300.5,1734.5 301.5,1736.2 302.5,1732.2 303.5,1734.8 304.5,1734.2 305.5,1735.9 306.5,1736.1 307.5,1732.8 308.5,1736.8 309.5,1732.7 310.5,1729.9 311.5,1729.1 312.5,1736 313.5,1733 314.5,1731.9 315.5,1731.7 316.5,1731 317.5,1735.3 318.5,1732.7 319.5,1736 320.5,1732.3 321.5,1728.3 322.5,1734 323.5,1731.6 324.5,1731.6 325.5,1734.7 326.5,1730.9 327.5,1733.2 328.5,1730.5 329.5,1728.5 330.5,1730.3 331.5,1727 332.5,1729.2 333.5,1726.8 334.5,1722.8 335.5,1721.9 336.5,1719.3 337.5,1714.2 338.5,1713.3 339.5,1704.7 340.5,1699.4 341.5,1685.8 342.5,1678.6 343.5,1667.8 344.5,1651.3 345.5,1639.9 346.5,1627.3 347.5,1622.7 348.5,1607.3 349.5,1605.5 350.5,1605.9 351.5,1597.2 352.5,1585.2 353.5,1590.7 354.5,1592.7 355.5,1585.5 356.5,1598.8 357.5,1606 358.5,1613.3 359.5,1617.8 360.5,1621.7 361.5,1626 362.5,1629.9 363.5,1634.6 364.5,1637.8 365.5,1639.2 366.5,1645.9 367.5,1653.9 368.5,1654.9 369.5,1666.4 370.5,1673.5 371.5,1682.3 372.5,1688.2 373.5,1694.3 374.5,1697.9 375.5,1706.3 376.5,1708.2 377.5,1705.7 378.5,1712.1 379.5,1710.6 380.5,1719 381.5,1714.7 382.5,1715.7 383.5,1717.7 384.5,1717.8 385.5,1719 386.5,1723.5 387.5,1721.2 388.5,1723.2 389.5,1724.4 390.5,1720 391.5,1726.4 392.5,1724.4 393.5,1725.2 394.5,1721.3 395.5,1725.3 396.5,1724.6 397.5,1722.8 398.5,1729.3 399.5,1725.9 400.5,1724.7 401.5,1726.1 402.5,1728.1 403.5,1728.9 404.5,1728 405.5,1729.4 406.5,1729.8 407.5,1723.9 408.5,1725.1 409.5,1723.6 410.5,1725.4 411.5,1727.8 412.5,1725.6 413.5,1721.4 414.5,1722.4 415.5,1724.7 416.5,1720.5 417.5,1720.8 418.5,1721 419.5,1715.4 420.5,1720.9 421.5,1719.4 422.5,1719.7 423.5,1715.7 424.5,1716 425.5,1716.2 426.5,1718.1 427.5,1717.6 428.5,1717.5 429.5,1721.4 430.5,1720 431.5,1714.8 432.5,1714.5 433.5,1719.9 434.5,1714.2 435.5,1717.7 436.5,1717.5 437.5,1711.1 438.5,1710.8 439.5,1710.6 440.5,1706.7 441.5,1704.7 442.5,1704.4 443.5,1706.1 444.5,1700.6 445.5,1699.6 446.5,1697.2 447.5,1692.9 448.5,1699.9 449.5,1686.5 450.5,1689.8 451.5,1691.9 452.5,1683.9 453.5,1688.4 454.5,1688.3 455.5,1678.6 456.5,1678.8 457.5,1670.2 458.5,1671.2 459.5,1664.2 460.5,1657.8 461.5,1654.4 462.5,1642.2 463.5,1636.3 464.5,1622.5 465.5,1602.1 466.5,1595.4 467.5,1580.7 468.5,1553.5 469.5,1550.7 470.5,1525.8 471.5,1510.8 472.5,1491.7 473.5,1488.2 474.5,1481.9 475.5,1471.2 476.5,1467.4 477.5,1448.5 478.5,1463.9 479.5,1443.3 480.5,1431.2 481.5,1433.6 482.5,1431.1 483.5,1436.8 484.5,1426 485.5,1431.9 486.5,1424.5 487.5,1446.4 488.5,1441.3 489.5,1456.3 490.5,1449.4 491.5,1471.7 492.5,1473.2 493.5,1493.3 494.5,1505.5 495.5,1505.7 496.5,1521.9 497.5,1535.5 498.5,1547.5 499.5,1565 500.5,1576.7 501.5,1586.8 502.5,1605.7 503.5,1618.6 504.5,1620.4 505.5,1632.9 506.5,1643.7 507.5,1650.3 508.5,1655.1 509.5,1666.8 510.5,1672.1 511.5,1675.8 512.5,1676.1 513.5,1686.5 514.5,1688.2 515.5,1683.6 516.5,1686.8 517.5,1693.2 518.5,1689.1 519.5,1694.9 520.5,1695.7 521.5,1695.1 522.5,1698.1 523.5,1695.5 524.5,1699.8 525.5,1696.9 526.5,1710.2 527.5,1709.1 528.5,1709.5 529.5,1708.1 530.5,1711.3 531.5,1713.3 532.5,1714 533.5,1715 534.5,1711.6 535.5,1716.2 536.5,1714.8 537.5,1714.2 538.5,1715.2 539.5,1719.8 540.5,1722.1 541.5,1717.2 542.5,1725 543.5,1725 544.5,1721.3 545.5,1721.7 546.5,1723 547.5,1725.8 548.5,1723.2 549.5,1722 550.5,1725.5 551.5,1720.7 552.5,1725.7 553.5,1728.2 554.5,1726.8 555.5,1728.1 556.5,1727.8 557.5,1728.6 558.5,1727.7 559.5,1726 560.5,1727.5 561.5,1728.1 562.5,1731 563.5,1732 564.5,1729.9 565.5,1727.8 566.5,1728.1 567.5,1729.4 568.5,1732.7 569.5,1730.8 570.5,1730.3 571.5,1729.2 572.5,1732.5 573.5,1731.6 574.5,1731.1 575.5,1731.6 576.5,1734.7 577.5,1731.5 578.5,1735 579.5,1734.4 580.5,1732.3 581.5,1734 582.5,1732.3 583.5,1731.1 584.5,1732.3 585.5,1731.3 586.5,1733.9 587.5,1733.1 588.5,1734.2 589.5,1734.8 590.5,1727.9 591.5,1734.1 592.5,1730.4 593.5,1734 594.5,1732.3 595.5,1734.1 596.5,1736.3 597.5,1731.1 598.5,1734.5 599.5,1734.1 600.5,1731.1 601.5,1735.6 602.5,1734.6 603.5,1733.8 604.5,1733.6 605.5,1740.3 606.5,1734.4 607.5,1732.1 608.5,1733.7 609.5,1734.8 610.5,1734.9 611.5,1735.5 612.5,1734 613.5,1736.7 614.5,1735.2 615.5,1733.9 616.5,1734.9 617.5,1735.7 618.5,1737.8 619.5,1737.3 620.5,1736.1 621.5,1736.8 622.5,1737.2 623.5,1740.2 624.5,1736.1 625.5,1737.9 626.5,1738.4 627.5,1735.9 628.5,1737.8 629.5,1737.8 630.5,1736.9 631.5,1738.6 632.5,1739.4 633.5,1739.6 634.5,1737.7 635.5,1738.3 636.5,1741.6 637.5,1736.5 638.5,1738.6 639.5,1739.6 640.5,1738.6 641.5,1739.4 642.5,1738.8 643.5,1739.7 644.5,1740.5 645.5,1738.4 646.5,1739.1 647.5,1738.8 648.5,1738.3 649.5,1739 650.5,1737.4 651.5,1740.2 652.5,1741.6 653.5,1741.6 654.5,1741.1 655.5,1738 656.5,1741.6 657.5,1738.5 658.5,1739.5 659.5,1742.2 660.5,1738.1 661.5,1740.9 662.5,1740.1 663.5,1739.6 664.5,1738.6 665.5,1740.5 666.5,1739.3 667.5,1741.4 668.5,1741.7 669.5,1738.1 670.5,1739.3 671.5,1739.6 672.5,1738.4 673.5,1738.5 674.5,1740.3 675.5,1739.8 676.5,1737.8 677.5,1739.4 678.5,1740.9 679.5,1738.5 680.5,1738.9 681.5,1742.4 682.5,1742 683.5,1737.9 684.5,1738.2 685.5,1740.6 686.5,1738.4 687.5,1739.7 688.5,1739.4 689.5,1740.8 690.5,1736.5 691.5,1736.9 692.5,1738.3 693.5,1741.4 694.5,1739.7 695.5,1737.5 696.5,1740.6 697.5,1740.9 698.5,1739.5 699.5,1739.3 700.5,1740.4 701.5,1741.4 702.5,1739.9 703.5,1740.4 704.5,1739.6 705.5,1739.1 706.5,1738.3 707.5,1739.9 708.5,1739.1 709.5,1739.1 710.5,1740.7 711.5,1740 712.5,1740.5 713.5,1737 714.5,1740 715.5,1738.3 716.5,1738 717.5,1737.9 718.5,1740.8 719.5,1740.2 720.5,1737.9 721.5,1737.3 722.5,1738.9 723.5,1738.1 724.5,1741.1 725.5,1736.5 726.5,1735.9 727.5,1738.1 728.5,1738.4 729.5,1738.5 730.5,1739.3 731.5,1741.2 732.5,1737.5 733.5,1737.1 734.5,1735.1 735.5,1738 736.5,1738.8 737.5,1737 738.5,1739.1 739.5,1737.2 740.5,1739.4 741.5,1737.5 742.5,1735.2 743.5,1735.7 744.5,1734.2 745.5,1733.8 746.5,1736.9 747.5,1737.7 748.5,1739.4 749.5,1736.1 750.5,1735.7 751.5,1734.2 752.5,1737.5 753.5,1736.5 754.5,1734.8 755.5,1736.8 756.5,1736.5 757.5,1732.4 758.5,1736.6 759.5,1735.5 760.5,1734.5 761.5,1734.4 762.5,1737.9 763.5,1737.4 764.5,1737.8 765.5,1732.6 766.5,1733.3 767.5,1735.8 768.5,1732 769.5,1732.6 770.5,1730.5 771.5,1736.7 772.5,1735 773.5,1733.6 774.5,1732.9 775.5,1731.4 776.5,1731.1 777.5,1732.7 778.5,1729.9 779.5,1733.2 780.5,1729.6 781.5,1728.5 782.5,1732.3 783.5,1729.2 784.5,1730.2 785.5,1728 786.5,1723.9 787.5,1729.2 788.5,1725.1 789.5,1729.7 790.5,1723.9 791.5,1722.9 792.5,1727.1 793.5,1727 794.5,1726 795.5,1722.8 796.5,1727 797.5,1721.5 798.5,1723.4 799.5,1722.3 800.5,1722.9 801.5,1725.3 802.5,1721.8 803.5,1724.1 804.5,1724.1 805.5,1718.3 806.5,1719.2 807.5,1720.8 808.5,1720.1 809.5,1722 810.5,1716.9 811.5,1722.9 812.5,1723 813.5,1720.9 814.5,1718.1 815.5,1721.3 816.5,1720.1 817.5,1722.6 818.5,1721.1 819.5,1723 820.5,1720.5 821.5,1725.2 822.5,1717.2 823.5,1720.7 824.5,1724.7 825.5,1720.9 826.5,1726.5 827.5,1723 828.5,1726.4 829.5,1725 830.5,1726.9 831.5,1729 832.5,1729.3 833.5,1729.6 834.5,1735.1 835.5,1731.8 836.5,1730.5 837.5,1734.4 838.5,1734.6 839.5,1735.7 840.5,1737.1 841.5,1732.7 842.5,1736.5 843.5,1737 844.5,1735.4 845.5,1736.1 846.5,1731.1 847.5,1735.4 848.5,1739.4 849.5,1734 850.5,1736.1 851.5,1737.6 852.5,1738.2 853.5,1740 854.5,1734.9 855.5,1737.7 856.5,1739.1 857.5,1735.9 858.5,1737.9 859.5,1740.9 860.5,1740.1 861.5,1739 862.5,1734.5 863.5,1738.2 864.5,1739 865.5,1738.1 866.5,1738.5 867.5,1743.1 868.5,1738.4 869.5,1737.4 870.5,1739.2 871.5,1738.5 872.5,1738.5 873.5,1738.9 874.5,1740.2 875.5,1739.5 876.5,1737.5 877.5,1739 878.5,1739.9 879.5,1738.7 880.5,1741 881.5,1740.5 882.5,1738.1 883.5,1739.9 884.5,1742.3 885.5,1741.8 886.5,1739.5 887.5,1740.9 888.5,1738.8 889.5,1737.7 890.5,1740.6 891.5,1740.2 892.5,1740.6 893.5,1739.9 894.5,1740.4 895.5,1739.3 896.5,1740.7 897.5,1741.3 898.5,1740.1 899.5,1741.4 900.5,1737.8 901.5,1739.3 902.5,1742.5 903.5,1743 904.5,1740.9 905.5,1740.5 906.5,1738.9 907.5,1741.3 908.5,1741.9 909.5,1738.8 910.5,1741.7 911.5,1741.7 912.5,1741.6 913.5,1739.4 914.5,1741.8 915.5,1738.9 916.5,1743.1 917.5,1741.2 918.5,1739.4 919.5,1742.9 920.5,1742.6 921.5,1740.1 922.5,1744.1 923.5,1739.6 924.5,1741.4 925.5,1742.6 926.5,1737.7 927.5,1742.3 928.5,1740.8 929.5,1740.8 930.5,1739.3 931.5,1741.3 932.5,1739.2 933.5,1739.4 934.5,1740.1 935.5,1739 936.5,1742.9 937.5,1738.8 938.5,1739.6 939.5,1740.2 940.5,1740.6 941.5,1741.7 942.5,1741.7 943.5,1740.1 944.5,1740 945.5,1740.5 946.5,1741.6 947.5,1741.4 948.5,1739.7 949.5,1737.5 950.5,1743.3 951.5,1741.6 952.5,1740.7 953.5,1740.7 954.5,1739.5 955.5,1738.8 956.5,1739.7 957.5,1739.9 958.5,1739.3 959.5,1738.1 960.5,1739.7 961.5,1740.9 962.5,1739.4 963.5,1740.1 964.5,1737.2 965.5,1739.8 966.5,1739.9 967.5,1738.3 968.5,1737.6 969.5,1740.6 970.5,1738.9 971.5,1740.7 972.5,1739.4 973.5,1740.8 974.5,1739.5 975.5,1737.8 976.5,1739.8 977.5,1739.5 978.5,1740.8 979.5,1739.3 980.5,1739.3 981.5,1741.1 982.5,1741.5 983.5,1740.9 984.5,1741.3 985.5,1740.5 986.5,1740.9 987.5,1741 988.5,1740.3 989.5,1739.8 990.5,1739.9 991.5,1743.1 992.5,1739.7 993.5,1739.3 994.5,1739.1 995.5,1739.6 996.5,1739.9 997.5,1738 998.5,1736.8 999.5,1739.9 1000.5,1737.2 1001.5,1739.8 1002.5,1739.6 1003.5,1740.9 1004.5,1741.6 1005.5,1739.7 1006.5,1738.2 1007.5,1737.2 1008.5,1737.7 1009.5,1738.7 1010.5,1735.5 1011.5,1738.5 1012.5,1738.2 1013.5,1739 1014.5,1737.4 1015.5,1737.8 1016.5,1736.2 1017.5,1736.3 1018.5,1733.9 1019.5,1736.5 1020.5,1738.4 1021.5,1735.6 1022.5,1735.1 1023.5,1731.8 1024.5,1735 1025.5,1729.8 1026.5,1731.5 1027.5,1728.9 1028.5,1725.4 1029.5,1728 1030.5,1724.3 1031.5,1722.9 1032.5,1721.5 1033.5,1718.3 1034.5,1715 1035.5,1714.3 1036.5,1708.7 1037.5,1705.8 1038.5,1697.4 1039.5,1686.2 1040.5,1679.4 1041.5,1670.3 1042.5,1661.8 1043.5,1656.1 1044.5,1634.3 1045.5,1632.4 1046.5,1614.4 1047.5,1612.2 1048.5,1608 1049.5,1594 1050.5,1589.9 1051.5,1593.3 1052.5,1586.9 1053.5,1580.7 1054.5,1573.2 1055.5,1584 1056.5,1569.9 1057.5,1565.2 1058.5,1576.9 1059.5,1571 1060.5,1565.9 1061.5,1574.2 1062.5,1570.3 1063.5,1574.5 1064.5,1574.8 1065.5,1573.2 1066.5,1589.1 1067.5,1594.5 1068.5,1599.8 1069.5,1611 1070.5,1628.5 1071.5,1632.8 1072.5,1644.6 1073.5,1656.9 1074.5,1665.3 1075.5,1669.2 1076.5,1685.1 1077.5,1693.4 1078.5,1698.5 1079.5,1704.8 1080.5,1704.7 1081.5,1709.4 1082.5,1715 1083.5,1713.4 1084.5,1721.4 1085.5,1724.3 1086.5,1724.9 1087.5,1729.7 1088.5,1729.5 1089.5,1727.6 1090.5,1732.9 1091.5,1732.5 1092.5,1733.6 1093.5,1734 1094.5,1736.8 1095.5,1736.1 1096.5,1734.7 1097.5,1737.1 1098.5,1738 1099.5,1736.1 1100.5,1736.8 1101.5,1737.2 1102.5,1737.1 1103.5,1738.8 1104.5,1740 1105.5,1741.4 1106.5,1740.6 1107.5,1740.6 1108.5,1741 1109.5,1741.5 1110.5,1739.3 1111.5,1741 1112.5,1740.7 1113.5,1740.3 1114.5,1740 1115.5,1740.1 1116.5,1740.6 1117.5,1739.4 1118.5,1742 1119.5,1741.3 1120.5,1741.5 1121.5,1741.8 1122.5,1742.3 1123.5,1740.5 1124.5,1741.2 1125.5,1739.1 1126.5,1738.2 1127.5,1738.6 1128.5,1743.4 1129.5,1738.7 1130.5,1741.9 1131.5,1743.3 1132.5,1740.6 1133.5,1743.5 1134.5,1743.8 1135.5,1742.6 1136.5,1744.6 1137.5,1742.1 1138.5,1740.2 1139.5,1741.9 1140.5,1740.6 1141.5,1739.4 1142.5,1739.4 1143.5,1744.4 1144.5,1740.4 1145.5,1741.1 1146.5,1740.2 1147.5,1741.3 1148.5,1740.8 1149.5,1740.5 1150.5,1739.4 1151.5,1739.1 1152.5,1740.1 1153.5,1741.5 1154.5,1744 1155.5,1742.5 1156.5,1743.6 1157.5,1741.7 1158.5,1740.9 1159.5,1739.2 1160.5,1741 1161.5,1738 1162.5,1740.6 1163.5,1743.3 1164.5,1741.4 1165.5,1742.5 1166.5,1740.4 1167.5,1739 1168.5,1740.2 1169.5,1740.3 1170.5,1742.6 1171.5,1743.6 1172.5,1739.8 1173.5,1740.3 1174.5,1740.6 1175.5,1740.3 1176.5,1739.1 1177.5,1740.9 1178.5,1741.3 1179.5,1741.3 1180.5,1739 1181.5,1740.5 1182.5,1738.2 1183.5,1741.9 1184.5,1739.2 1185.5,1740.2 1186.5,1740 1187.5,1739.8 1188.5,1739.1 1189.5,1738 1190.5,1742.9 1191.5,1740.8 1192.5,1740.8 1193.5,1743.4 1194.5,1740.2 1195.5,1741.1 1196.5,1740.4 1197.5,1742 1198.5,1741 1199.5,1740.7 1200.5,1739.8 1201.5,1740.5 1202.5,1741.7 1203.5,1737.1 1204.5,1739.8 1205.5,1739.3 1206.5,1739.4 1207.5,1737 1208.5,1740.7 1209.5,1738.4 1210.5,1739.2 1211.5,1738.7 1212.5,1737 1213.5,1738.6 1214.5,1736.5 1215.5,1737.7 1216.5,1738.4 1217.5,1738.8 1218.5,1738.7 1219.5,1738.3 1220.5,1741.5 1221.5,1738.9 1222.5,1736.3 1223.5,1737 1224.5,1736.8 1225.5,1737.3 1226.5,1736.5 1227.5,1736 1228.5,1739.7 1229.5,1737 1230.5,1736.2 1231.5,1736.2 1232.5,1736 1233.5,1738.3 1234.5,1736.5 1235.5,1737.2 1236.5,1729.7 1237.5,1735.1 1238.5,1736 1239.5,1737.2 1240.5,1733.3 1241.5,1729.7 1242.5,1733.4 1243.5,1730.8 1244.5,1728.2 1245.5,1730 1246.5,1732.8 1247.5,1732.7 1248.5,1731.5 1249.5,1727.7 1250.5,1734.4 1251.5,1726.8 1252.5,1728.6 1253.5,1725.6 1254.5,1730.8 1255.5,1728.7 1256.5,1729.3 1257.5,1727.4 1258.5,1726.8 1259.5,1727 1260.5,1722.4 1261.5,1728.3 1262.5,1728 1263.5,1725.1 1264.5,1725.8 1265.5,1726.4 1266.5,1729.1 1267.5,1726.7 1268.5,1725.9 1269.5,1724.7 1270.5,1722.6 1271.5,1724.5 1272.5,1725.9 1273.5,1725.2 1274.5,1725.9 1275.5,1727.4 1276.5,1726.7 1277.5,1726.4 1278.5,1727.2 1279.5,1726.2 1280.5,1725.8 1281.5,1727 1282.5,1722.7 1283.5,1729.2 1284.5,1724.3 1285.5,1729.1 1286.5,1727.8 1287.5,1730.4 1288.5,1728.7 1289.5,1727.2 1290.5,1731.6 1291.5,1730.3 1292.5,1730.5 1293.5,1730.8 1294.5,1732.9 1295.5,1733 1296.5,1732.3 1297.5,1729.5 1298.5,1732 1299.5,1733.4 1300.5,1736.8 1301.5,1734.8 1302.5,1734.4 1303.5,1736.9 1304.5,1735.1 1305.5,1735.6 1306.5,1736.2 1307.5,1733.8 1308.5,1738 1309.5,1737.4 1310.5,1736.4 1311.5,1735.2 1312.5,1737.5 1313.5,1739.5 1314.5,1736.5 1315.5,1736 1316.5,1738.4 1317.5,1735.5 1318.5,1734.7 1319.5,1737.5 1320.5,1737.2 1321.5,1737.9 1322.5,1737.6 1323.5,1739 1324.5,1738.3 1325.5,1737.8 1326.5,1738.1 1327.5,1739.7 1328.5,1740.2 1329.5,1740.2 1330.5,1739.9 1331.5,1734.2 1332.5,1737.5 1333.5,1738.4 1334.5,1739.1 1335.5,1736.3 1336.5,1740.6 1337.5,1738.8 1338.5,1737.3 1339.5,1738.3 1340.5,1737.3 1341.5,1736.4 1342.5,1738.1 1343.5,1736.4 1344.5,1734.6 1345.5,1735.5 1346.5,1736.1 1347.5,1734.3 1348.5,1737.8 1349.5,1733.7 1350.5,1738.2 1351.5,1736.5 1352.5,1733.2 1353.5,1734.8 1354.5,1736.4 1355.5,1733.9 1356.5,1731.9 1357.5,1734.1 1358.5,1737.2 1359.5,1730.9 1360.5,1734.4 1361.5,1733.2 1362.5,1732.8 1363.5,1732.2 1364.5,1732.1 1365.5,1734.4 1366.5,1733.5 1367.5,1730.4 1368.5,1734.9 1369.5,1729.4 1370.5,1732.8 1371.5,1731.7 1372.5,1733.3 1373.5,1731.5 1374.5,1732.5 1375.5,1730.2 1376.5,1731.8 1377.5,1730.1 1378.5,1733.2 1379.5,1726.9 1380.5,1730.2 1381.5,1728 1382.5,1726.7 1383.5,1724.4 1384.5,1725.8 1385.5,1720.8 1386.5,1720.2 1387.5,1724 1388.5,1718.1 1389.5,1724.1 1390.5,1719.2 1391.5,1719.5 1392.5,1718.1 1393.5,1717.9 1394.5,1715 1395.5,1713.7 1396.5,1713.2 1397.5,1715.2 1398.5,1714.4 1399.5,1713.8 1400.5,1710.5 1401.5,1708.1 1402.5,1703.2 1403.5,1708.7 1404.5,1708.4 1405.5,1704 1406.5,1706.6 1407.5,1707.1 1408.5,1702.9 1409.5,1704.9 1410.5,1702 1411.5,1695.5 1412.5,1698.7 1413.5,1698.6 1414.5,1701.2 1415.5,1697.1 1416.5,1698.3 1417.5,1696.8 1418.5,1699.5 1419.5,1699.8 1420.5,1702.5 1421.5,1701.9 1422.5,1700.1 1423.5,1700.3 1424.5,1700 1425.5,1700.3 1426.5,1704.9 1427.5,1693.7 1428.5,1701.1 1429.5,1703.1 1430.5,1706.1 1431.5,1700.4 1432.5,1704.9 1433.5,1706.8 1434.5,1703.4 1435.5,1699.7 1436.5,1704.3 1437.5,1702.3 1438.5,1707.7 1439.5,1703.8 1440.5,1711.4 1441.5,1707.1 1442.5,1704.9 1443.5,1706 1444.5,1704.8 1445.5,1709.3 1446.5,1712.8 1447.5,1708.8 1448.5,1712.5 1449.5,1708.3 1450.5,1712.4 1451.5,1718.3 1452.5,1709.6 1453.5,1717.2 1454.5,1717.9 1455.5,1711.2 1456.5,1713.3 1457.5,1715.5 1458.5,1721.2 1459.5,1719 1460.5,1720.8 1461.5,1723.9 1462.5,1723.6 1463.5,1724.9 1464.5,1724.7 1465.5,1728.7 1466.5,1725.6 1467.5,1731.4 1468.5,1727.9 1469.5,1727.7 1470.5,1731.2 1471.5,1731.4 1472.5,1727.4 1473.5,1732.2 1474.5,1729.8 1475.5,1731.4 1476.5,1734.8 1477.5,1732.4 1478.5,1735 1479.5,1734.2 1480.5,1738.5 1481.5,1735.5 1482.5,1734.1 1483.5,1734.5 1484.5,1735.1 1485.5,1737 1486.5,1737.1 1487.5,1738.8 1488.5,1737.8 1489.5,1738 1490.5,1738.5 1491.5,1738 1492.5,1738.8 1493.5,1739.7 1494.5,1739.9 1495.5,1738.2 1496.5,1736.6 1497.5,1738.1 1498.5,1739.8 1499.5,1736.1 1500.5,1739 1501.5,1740.4 1502.5,1739.1 1503.5,1738.5 1504.5,1742.6 1505.5,1742.1 1506.5,1739.9 1507.5,1742.1 1508.5,1742.1 1509.5,1738.7 1510.5,1744.1 1511.5,1739.1 1512.5,1740.1 1513.5,1738.9 1514.5,1740.6 1515.5,1738.7 1516.5,1740.5 1517.5,1742.1 1518.5,1740.9 1519.5,1740.2 1520.5,1742.8 1521.5,1739.4 1522.5,1742 1523.5,1740.3 1524.5,1741 1525.5,1740.8 1526.5,1740.9 1527.5,1740.7 1528.5,1739.7 1529.5,1740 1530.5,1741.4 1531.5,1740.7 1532.5,1739.2 1533.5,1739.8 1534.5,1739.9 1535.5,1740.8 1536.5,1741.1 1537.5,1741 1538.5,1740 1539.5,1740.9 1540.5,1739 1541.5,1736.9 1542.5,1740.9 1543.5,1738.6 1544.5,1739.7 1545.5,1739.3 1546.5,1741.9 1547.5,1739.3 1548.5,1741.4 1549.5,1740.4 1550.5,1739.3 1551.5,1738.9 1552.5,1741.8 1553.5,1741.7 1554.5,1742.2 1555.5,1743.7 1556.5,1741.6 1557.5,1741.6 1558.5,1741.1 1559.5,1741.4 1560.5,1740.8 1561.5,1740.1 1562.5,1744.1 1563.5,1738.8 1564.5,1741.7 1565.5,1742 1566.5,1741.7 1567.5,1740.1 1568.5,1741.2 1569.5,1740.9 1570.5,1740 1571.5,1741.5 1572.5,1741 1573.5,1740.8 1574.5,1742.6 1575.5,1740.2 1576.5,1742.3 1577.5,1740.8 1578.5,1742.3 1579.5,1741.8 1580.5,1742.1 1581.5,1740.4 1582.5,1740.7 1583.5,1740.6 1584.5,1742.1 1585.5,1742.9 1586.5,1743.4 1587.5,1741.2 1588.5,1742 1589.5,1739.6 1590.5,1738.8 1591.5,1740.7 1592.5,1741 1593.5,1739.7 1594.5,1739.4 1595.5,1742.6 1596.5,1740.8 1597.5,1739.5 1598.5,1745.1 1599.5,1742.1 1600.5,1741.4 1601.5,1742.8 1602.5,1740.8 1603.5,1744.1 1604.5,1739.7 1605.5,1740.1 1606.5,1741.7 1607.5,1740.8 1608.5,1743.9" fill="none" stroke="#ff0000" stroke-width="4.4" stroke-linejoin="round"/>
<path d="M245.5,2150.7 246.7,2152.2 247.9,2153.8 249.1,2154.3 250.3,2155 251.5,2153.7 252.7,2157 253.9,2152.1 255.1,2153.2 256.3,2154.4 257.5,2152.2 258.7,2152.1 259.9,2151.8 261.1,2151.4 262.3,2150.4 263.5,2151.4 264.7,2149.5 265.9,2153 267.1,2149.3 268.3,2155.9 269.5,2155.2 270.7,2154.1 271.9,2151.5 273.1,2150.8 274.3,2154.1 275.5,2152.1 276.7,2152.7 277.9,2150.3 279.1,2153.6 280.3,2150 281.5,2151.7 282.7,2148.2 283.9,2150.1 285.1,2152.3 286.3,2150.4 287.5,2150.3 288.7,2152.6 289.9,2150.9 291.1,2153.4 292.3,2146.3 293.5,2152 294.7,2151.8 295.9,2147.9 297.1,2148.3 298.3,2152.5 299.5,2148.7 300.7,2149.6 301.9,2152 303.1,2150.4 304.3,2152.2 305.5,2150 306.7,2152.5 307.9,2154.2 309.1,2153.1 310.3,2148.7 311.5,2154 312.7,2153 313.9,2151.2 315.1,2155.2 316.3,2149.2 317.5,2155.6 318.7,2150.5 319.9,2154.3 321.1,2150.7 322.3,2147.7 323.5,2149.8 324.7,2149.4 325.9,2148.9 327.1,2149 328.3,2143.7 329.5,2145.7 330.7,2145.3 331.9,2142 333.1,2139.4 334.3,2138.2 335.5,2141.2 336.7,2140 337.9,2134.3 339.1,2131 340.3,2135.5 341.5,2124.4 342.7,2125.2 343.9,2115.3 345.1,2102.8 346.3,2100.8 347.5,2091.2 348.7,2089.9 349.9,2087.1 351.1,2071.2 352.3,2071.3 353.5,2067 354.7,2056.2 355.9,2051 357.1,2059 358.3,2046.4 359.5,2044 360.7,2039.6 361.9,2039.2 363.1,2037.9 364.3,2046.2 365.5,2051.6 366.7,2050.7 367.9,2053.7 369.1,2065.2 370.3,2063.1 371.5,2071.3 372.7,2084.6 373.9,2096.8 375.1,2097.7 376.3,2099.5 377.5,2112.1 378.7,2106.7 379.9,2114.8 381.1,2124.1 382.3,2123.6 383.5,2118.8 384.7,2119.5 385.9,2128.5 387.1,2127.5 388.3,2127.5 389.5,2131.6 390.7,2129.7 391.9,2126.2 393.1,2133.2 394.3,2128.1 395.5,2125.8 396.7,2123.9 397.9,2128 399.1,2125 400.3,2129.5 401.5,2127.3 402.7,2131.6 403.9,2127.8 405.1,2127.4 406.3,2123.8 407.5,2126.1 408.7,2130.7 409.9,2136.6 411.1,2123 412.3,2122.4 413.5,2125.3 414.7,2124.7 415.9,2120.3 417.1,2121.6 418.3,2115.2 419.5,2118.3 420.7,2121.1 421.9,2122.7 423.1,2116.2 424.3,2115.5 425.5,2117.5 426.7,2119.4 427.9,2117.1 429.1,2112.9 430.3,2116.2 431.5,2117.8 432.7,2111.8 433.9,2108.9 435.1,2114 436.3,2112.2 437.5,2112.9 438.7,2108.5 439.9,2104.5 441.1,2103.9 442.3,2100.5 443.5,2099.6 444.7,2099.7 445.9,2098.6 447.1,2102.8 448.3,2092.3 449.5,2094.2 450.7,2087.6 451.9,2090.2 453.1,2080.2 454.3,2074 455.5,2075.8 456.7,2069.8 457.9,2065 459.1,2071.7 460.3,2066.5 461.5,2069.4 462.7,2065 463.9,2060.7 465.1,2053.3 466.3,2040.7 467.5,2041.4 468.7,2031.8 469.9,2029.7 471.1,2021.2 472.3,2010.6 473.5,1994.6 474.7,1983.9 475.9,1971.1 477.1,1946.2 478.3,1934.7 479.5,1923.5 480.7,1894.5 481.9,1884.1 483.1,1867.7 484.3,1869.8 485.5,1849.4 486.7,1839.1 487.9,1834.6 489.1,1848.3 490.3,1860.9 491.5,1858.5 492.7,1863.9 493.9,1877.7 495.1,1877.7 496.3,1898.5 497.5,1912.8 498.7,1913.6 499.9,1921.7 501.1,1937.2 502.3,1946 503.5,1957.3 504.7,1972.4 505.9,1984.7 507.1,1991.2 508.3,2005.3 509.5,2022.3 510.7,2035 511.9,2044.7 513.1,2041.8 514.3,2056.3 515.5,2058.7 516.7,2058.4 517.9,2063.5 519.1,2068.1 520.3,2075.8 521.5,2067.5 522.7,2078.4 523.9,2079.4 525.1,2083.4 526.3,2093.1 527.5,2097 528.7,2095.5 529.9,2102.4 531.1,2107 532.3,2103.8 533.5,2113.6 534.7,2112.2 535.9,2114.4 537.1,2116.3 538.3,2122 539.5,2117.2 540.7,2116.8 541.9,2124.2 543.1,2117.9 544.3,2118.7 545.5,2117.1 546.7,2125.8 547.9,2124.6 549.1,2126.5 550.3,2126.9 551.5,2127.3 552.7,2126.7 553.9,2127.9 555.1,2132.4 556.3,2132.4 557.5,2137.4 558.7,2131.7 559.9,2133.2 561.1,2132.6 562.3,2139.5 563.5,2133.4 564.7,2139.2 565.9,2141.4 567.1,2138 568.3,2140.7 569.5,2134.2 570.7,2138.9 571.9,2136.3 573.1,2141.2 574.3,2141.3 575.5,2139.9 576.7,2144.4 577.9,2143.5 579.1,2142 580.3,2142.6 581.5,2141 582.7,2144.4 583.9,2150 585.1,2144.3 586.3,2147.1 587.5,2145.3 588.7,2148.5 589.9,2147.9 591.1,2146.7 592.3,2143.6 593.5,2146.5 594.7,2150.2 595.9,2147.4 597.1,2149.3 598.3,2147.2 599.5,2144.5 600.7,2149.3 601.9,2149.2 603.1,2147.6 604.3,2148.2 605.5,2149.7 606.7,2148 607.9,2150.1 609.1,2149.1 610.3,2145 611.5,2149.6 612.7,2148.8 613.9,2148.5 615.1,2151.1 616.3,2149.5 617.5,2151.6 618.7,2152.8 619.9,2151.1 621.1,2148.1 622.3,2149.8 623.5,2153 624.7,2151 625.9,2150.1 627.1,2151.6 628.3,2152.8 629.5,2152.5 630.7,2153.4 631.9,2150.8 633.1,2152 634.3,2152.1 635.5,2152.6 636.7,2149 637.9,2152.4 639.1,2150.5 640.3,2155.4 641.5,2155.8 642.7,2156 643.9,2154.5 645.1,2152.2 646.3,2154.8 647.5,2152.8 648.7,2154.3 649.9,2151.6 651.1,2152.2 652.3,2154.1 653.5,2156.4 654.7,2153.3 655.9,2157.3 657.1,2158.2 658.3,2151.2 659.5,2153.4 660.7,2151.8 661.9,2153.2 663.1,2152.6 664.3,2153.4 665.5,2155.2 666.7,2155.2 667.9,2154 669.1,2153.6 670.3,2153.8 671.5,2153.8 672.7,2154.6 673.9,2153.6 675.1,2154.5 676.3,2151.3 677.5,2155 678.7,2156.7 679.9,2153.9 681.1,2151.2 682.3,2156 683.5,2153.1 684.7,2148.4 685.9,2153.2 687.1,2154.7 688.3,2154.3 689.5,2155.8 690.7,2154.7 691.9,2153.8 693.1,2150.2 694.3,2151.7 695.5,2153.9 696.7,2154.8 697.9,2151.8 699.1,2152.6 700.3,2154.4 701.5,2150.3 702.7,2150.2 703.9,2153.2 705.1,2154.1 706.3,2152.8 707.5,2149.6 708.7,2153.7 709.9,2151.3 711.1,2154.8 712.3,2153.5 713.5,2154.1 714.7,2154.7 715.9,2152.7 717.1,2155.1 718.3,2155.8 719.5,2154.3 720.7,2155.9 721.9,2152.5 723.1,2155.2 724.3,2154.1 725.5,2151.9 726.7,2153.5 727.9,2152.7 729.1,2152.6 730.3,2153.7 731.5,2155.4 732.7,2152.9 733.9,2153.7 735.1,2150.8 736.3,2153.6 737.5,2155.4 738.7,2154.7 739.9,2154.1 741.1,2152.2 742.3,2151.4 743.5,2152.9 744.7,2150.6 745.9,2150.7 747.1,2154.5 748.3,2151.1 749.5,2155.9 750.7,2150 751.9,2153.3 753.1,2150.3 754.3,2152.7 755.5,2150.4 756.7,2152.3 757.9,2151.8 759.1,2151.2 760.3,2152.9 761.5,2154.6 762.7,2150.6 763.9,2153.3 765.1,2151.7 766.3,2151.4 767.5,2155.5 768.7,2147.1 769.9,2149.7 771.1,2147.4 772.3,2150.1 773.5,2150 774.7,2157.7 775.9,2150.7 777.1,2153.3 778.3,2152.1 779.5,2148.3 780.7,2149.9 781.9,2152 783.1,2148.7 784.3,2148.5 785.5,2148.8 786.7,2144.3 787.9,2145.4 789.1,2147.5 790.3,2147.6 791.5,2143.9 792.7,2144.7 793.9,2144.6 795.1,2144 796.3,2145.4 797.5,2143.6 798.7,2143.4 799.9,2139.5 801.1,2140.2 802.3,2143.4 803.5,2138.9 804.7,2143.3 805.9,2141.1 807.1,2140.8 808.3,2144.2 809.5,2141.1 810.7,2140.6 811.9,2141.1 813.1,2142.8 814.3,2149.1 815.5,2137.7 816.7,2142.7 817.9,2142.4 819.1,2145.3 820.3,2142.5 821.5,2138.1 822.7,2147.1 823.9,2142 825.1,2144.7 826.3,2142.2 827.5,2143.2 828.7,2144.9 829.9,2148.2 831.1,2148.5 832.3,2145.8 833.5,2148.5 834.7,2147 835.9,2148.4 837.1,2148.9 838.3,2150.3 839.5,2148.3 840.7,2149.7 841.9,2150.8 843.1,2151 844.3,2149.7 845.5,2154.9 846.7,2151.2 847.9,2153.8 849.1,2153.1 850.3,2155.2 851.5,2149.4 852.7,2157 853.9,2153.2 855.1,2151.6 856.3,2154 857.5,2157.8 858.7,2154.9 859.9,2152 861.1,2153.4 862.3,2156.6 863.5,2152 864.7,2154.2 865.9,2154.1 867.1,2158.3 868.3,2154.3 869.5,2157 870.7,2153.8 871.9,2153.7 873.1,2156.7 874.3,2156.1 875.5,2152.4 876.7,2156.3 877.9,2156.3 879.1,2154.4 880.3,2155.8 881.5,2155.9 882.7,2154.7 883.9,2154.6 885.1,2154.5 886.3,2155.2 887.5,2153.5 888.7,2155.6 889.9,2153.3 891.1,2155.9 892.3,2155.6 893.5,2154.1 894.7,2157.1 895.9,2158.9 897.1,2157.9 898.3,2153.6 899.5,2157.8 900.7,2156.1 901.9,2155.7 903.1,2154.8 904.3,2155.8 905.5,2158 906.7,2156.7 907.9,2155.1 909.1,2154.7 910.3,2155.1 911.5,2156.7 912.7,2158.7 913.9,2154.1 915.1,2155.8 916.3,2155.2 917.5,2154.6 918.7,2156.4 919.9,2156.6 921.1,2153.5 922.3,2154.1 923.5,2157.6 924.7,2156.2 925.9,2156.5 927.1,2154.8 928.3,2155 929.5,2156.3 930.7,2154.8 931.9,2153.7 933.1,2155.5 934.3,2156.9 935.5,2153.7 936.7,2157.1 937.9,2156.5 939.1,2153.9 940.3,2155.2 941.5,2155.1 942.7,2156.2 943.9,2156.2 945.1,2152.9 946.3,2152.8 947.5,2156.6 948.7,2155.1 949.9,2155.5 951.1,2155.4 952.3,2157.3 953.5,2152.7 954.7,2156.5 955.9,2153.2 957.1,2155.8 958.3,2156.7 959.5,2152.1 960.7,2155.1 961.9,2153.9 963.1,2153.8 964.3,2154.3 965.5,2152.4 966.7,2152.4 967.9,2155.1 969.1,2155.4 970.3,2152.9 971.5,2151.3 972.7,2157.7 973.9,2155.5 975.1,2154.2 976.3,2151.7 977.5,2152.4 978.7,2153.7 979.9,2151.5 981.1,2156 982.3,2153.3 983.5,2153.7 984.7,2151 985.9,2151.1 987.1,2151.3 988.3,2153.1 989.5,2152 990.7,2151.9 991.9,2152.9 993.1,2152.6 994.3,2154.8 995.5,2151.6 996.7,2150 997.9,2151.8 999.1,2154.4 1000.3,2150.6 1001.5,2151.6 1002.7,2150.7 1003.9,2152.1 1005.1,2151.7 1006.3,2149.6 1007.5,2150.6 1008.7,2152.7 1009.9,2152.9 1011.1,2152.5 1012.3,2152.3 1013.5,2149.9 1014.7,2149.8 1015.9,2152.2 1017.1,2148 1018.3,2150 1019.5,2146.4 1020.7,2149.1 1021.9,2148.3 1023.1,2147.1 1024.3,2150.4 1025.5,2147.5 1026.7,2147.9 1027.9,2147.6 1029.1,2145.9 1030.3,2149.7 1031.5,2144.8 1032.7,2145.4 1033.9,2141 1035.1,2141.8 1036.3,2141.1 1037.5,2140 1038.7,2138.1 1039.9,2138.5 1041.1,2140.5 1042.3,2134.4 1043.5,2132.5 1044.7,2129.7 1045.9,2135.7 1047.1,2130.8 1048.3,2124.9 1049.5,2122 1050.7,2114 1051.9,2112.4 1053.1,2110.5 1054.3,2107.3 1055.5,2101 1056.7,2098.3 1057.9,2100.6 1059.1,2098.2 1060.3,2088.5 1061.5,2095.9 1062.7,2099.8 1063.9,2092.3 1065.1,2095.3 1066.3,2088.9 1067.5,2097.7 1068.7,2091.4 1069.9,2092.2 1071.1,2097.2 1072.3,2108.5 1073.5,2099.8 1074.7,2100.2 1075.9,2109.4 1077.1,2112.2 1078.3,2120.5 1079.5,2114.6 1080.7,2117.1 1081.9,2124.5 1083.1,2130 1084.3,2133.2 1085.5,2137.8 1086.7,2133.4 1087.9,2137 1089.1,2140.6 1090.3,2144.4 1091.5,2145 1092.7,2144.3 1093.9,2144.1 1095.1,2149 1096.3,2149.9 1097.5,2154.2 1098.7,2149.1 1099.9,2153.3 1101.1,2148.5 1102.3,2150.3 1103.5,2150.7 1104.7,2151.6 1105.9,2151.3 1107.1,2152.4 1108.3,2153.6 1109.5,2153.2 1110.7,2155.3 1111.9,2154.3 1113.1,2154.6 1114.3,2157.1 1115.5,2155.3 1116.7,2155.2 1117.9,2155.1 1119.1,2155.3 1120.3,2156.2 1121.5,2154.2 1122.7,2157.4 1123.9,2158.1 1125.1,2157.6 1126.3,2155.1 1127.5,2153.5 1128.7,2155.4 1129.9,2156.4 1131.1,2157.5 1132.3,2156 1133.5,2155.9 1134.7,2158.8 1135.9,2155.5 1137.1,2158.2 1138.3,2158 1139.5,2154.7 1140.7,2157.2 1141.9,2156 1143.1,2155.5 1144.3,2154.2 1145.5,2154.6 1146.7,2157.6 1147.9,2156.4 1149.1,2157.4 1150.3,2155.5 1151.5,2156.6 1152.7,2156.7 1153.9,2154.9 1155.1,2154.7 1156.3,2157.8 1157.5,2157.3 1158.7,2155.8 1159.9,2157 1161.1,2158.1 1162.3,2159.8 1163.5,2155.8 1164.7,2158 1165.9,2160.2 1167.1,2157.2 1168.3,2159.3 1169.5,2153.3 1170.7,2159.2 1171.9,2157.1 1173.1,2154.4 1174.3,2158.2 1175.5,2158.6 1176.7,2158.9 1177.9,2158.9 1179.1,2157.1 1180.3,2156 1181.5,2156.4 1182.7,2157.1 1183.9,2157.7 1185.1,2156.4 1186.3,2157.2 1187.5,2158.4 1188.7,2157.6 1189.9,2160.5 1191.1,2160.3 1192.3,2155.4 1193.5,2156.3 1194.7,2155.2 1195.9,2155.4 1197.1,2157.9 1198.3,2155.7 1199.5,2155.6 1200.7,2156.7 1201.9,2158.3 1203.1,2156.5 1204.3,2156.5 1205.5,2158.3 1206.7,2157.5 1207.9,2157.4 1209.1,2158.1 1210.3,2155 1211.5,2156.7 1212.7,2155.3 1213.9,2157.7 1215.1,2157.2 1216.3,2154.1 1217.5,2157.7 1218.7,2153.5 1219.9,2157.1 1221.1,2155.4 1222.3,2153.4 1223.5,2152.8 1224.7,2154 1225.9,2154.3 1227.1,2152.9 1228.3,2154.9 1229.5,2151.4 1230.7,2153.6 1231.9,2153.4 1233.1,2150 1234.3,2153.7 1235.5,2150.7 1236.7,2148.3 1237.9,2151.5 1239.1,2152 1240.3,2153.9 1241.5,2151.2 1242.7,2154.6 1243.9,2154.4 1245.1,2153.6 1246.3,2153.8 1247.5,2151.8 1248.7,2149.9 1249.9,2152 1251.1,2152.4 1252.3,2150.7 1253.5,2149.5 1254.7,2146.7 1255.9,2150.8 1257.1,2149.9 1258.3,2146.2 1259.5,2148.6 1260.7,2149.4 1261.9,2147.2 1263.1,2148.5 1264.3,2147.8 1265.5,2142.4 1266.7,2144.3 1267.9,2145.5 1269.1,2146 1270.3,2146.7 1271.5,2138.7 1272.7,2142.6 1273.9,2144.3 1275.1,2145.5 1276.3,2146.5 1277.5,2140.4 1278.7,2141.7 1279.9,2140.2 1281.1,2144.5 1282.3,2139.5 1283.5,2145.4 1284.7,2144.8 1285.9,2143.7 1287.1,2137.6 1288.3,2141 1289.5,2144.4 1290.7,2139.5 1291.9,2142.4 1293.1,2143 1294.3,2145.5 1295.5,2144.4 1296.7,2144.6 1297.9,2143.3 1299.1,2144.5 1300.3,2144.4 1301.5,2146.5 1302.7,2144.7 1303.9,2147.5 1305.1,2141.7 1306.3,2148.3 1307.5,2145.5 1308.7,2148.5 1309.9,2146.4 1311.1,2148.3 1312.3,2149.8 1313.5,2145.5 1314.7,2147 1315.9,2146.6 1317.1,2147.4 1318.3,2143.6 1319.5,2146.6 1320.7,2146.5 1321.9,2145.3 1323.1,2146.6 1324.3,2143.7 1325.5,2150 1326.7,2147.9 1327.9,2151 1329.1,2145.2 1330.3,2144.5 1331.5,2147.6 1332.7,2143.5 1333.9,2147.5 1335.1,2145.5 1336.3,2146.3 1337.5,2147.5 1338.7,2147 1339.9,2150.8 1341.1,2148.1 1342.3,2143.9 1343.5,2148.6 1344.7,2143.4 1345.9,2146.3 1347.1,2143.3 1348.3,2144 1349.5,2148.4 1350.7,2144.1 1351.9,2143.7 1353.1,2143.6 1354.3,2144 1355.5,2147.6 1356.7,2141.3 1357.9,2140.7 1359.1,2144.3 1360.3,2138.7 1361.5,2141 1362.7,2144 1363.9,2140.8 1365.1,2139.1 1366.3,2138 1367.5,2137 1368.7,2137.4 1369.9,2138.8 1371.1,2141.3 1372.3,2140.4 1373.5,2136.4 1374.7,2135.8 1375.9,2139.2 1377.1,2132.7 1378.3,2136.1 1379.5,2136.3 1380.7,2134.1 1381.9,2134.3 1383.1,2137.6 1384.3,2132.3 1385.5,2134.1 1386.7,2134.6 1387.9,2136.3 1389.1,2132.3 1390.3,2138.5 1391.5,2134.6 1392.7,2134.5 1393.9,2133.9 1395.1,2132.8 1396.3,2131.7 1397.5,2137 1398.7,2134.1 1399.9,2133 1401.1,2135.6 1402.3,2130.7 1403.5,2134 1404.7,2132 1405.9,2129.2 1407.1,2133.4 1408.3,2126.8 1409.5,2132.4 1410.7,2127.7 1411.9,2130.9 1413.1,2133.3 1414.3,2130.6 1415.5,2126.9 1416.7,2128.2 1417.9,2126.9 1419.1,2124.3 1420.3,2124.3 1421.5,2127.4 1422.7,2128.7 1423.9,2122 1425.1,2126.9 1426.3,2128.6 1427.5,2127.4 1428.7,2124.2 1429.9,2130.1 1431.1,2123.6 1432.3,2129 1433.5,2131.7 1434.7,2121.2 1435.9,2127.8 1437.1,2128 1438.3,2127.7 1439.5,2124.9 1440.7,2126.2 1441.9,2123.1 1443.1,2127.3 1444.3,2128.3 1445.5,2124.6 1446.7,2123.6 1447.9,2124.6 1449.1,2125.6 1450.3,2125.6 1451.5,2124.8 1452.7,2125.2 1453.9,2121 1455.1,2117 1456.3,2127.5 1457.5,2131 1458.7,2124.4 1459.9,2128.2 1461.1,2132.3 1462.3,2135.6 1463.5,2136.6 1464.7,2139.9 1465.9,2138.3 1467.1,2140.8 1468.3,2141.8 1469.5,2140.6 1470.7,2145.2 1471.9,2144.7 1473.1,2146.2 1474.3,2143.8 1475.5,2147.5 1476.7,2143.6 1477.9,2147.3 1479.1,2141.5 1480.3,2145.3 1481.5,2149.4 1482.7,2147.4 1483.9,2149 1485.1,2145.8 1486.3,2152.4 1487.5,2150.9 1488.7,2150 1489.9,2151.2 1491.1,2151.3 1492.3,2153.6 1493.5,2151.7 1494.7,2148.8 1495.9,2151.3 1497.1,2154.4 1498.3,2153.3 1499.5,2151.7 1500.7,2153.8 1501.9,2153.1 1503.1,2154.1 1504.3,2150.4 1505.5,2151.8 1506.7,2154.6 1507.9,2153.2 1509.1,2154.2 1510.3,2157.1 1511.5,2153.3 1512.7,2154.3 1513.9,2153.1 1515.1,2153.1 1516.3,2154.1 1517.5,2151.9 1518.7,2150.9 1519.9,2156.7 1521.1,2154.4 1522.3,2156.5 1523.5,2154.9 1524.7,2155 1525.9,2156 1527.1,2156.1 1528.3,2153.1 1529.5,2157 1530.7,2153.6 1531.9,2155.5 1533.1,2159.3 1534.3,2155.4 1535.5,2158 1536.7,2154.9 1537.9,2156.4 1539.1,2155.6 1540.3,2156.2 1541.5,2154.2 1542.7,2154.1 1543.9,2156.1 1545.1,2153.2 1546.3,2154.3 1547.5,2156.7 1548.7,2154.7 1549.9,2154.3 1551.1,2154 1552.3,2155.9 1553.5,2155.1 1554.7,2155.9 1555.9,2155.4 1557.1,2158.6 1558.3,2155 1559.5,2152.6 1560.7,2155.9 1561.9,2155.7 1563.1,2155.9 1564.3,2153.2 1565.5,2157.4 1566.7,2155.6 1567.9,2155.6 1569.1,2153.2 1570.3,2156.4 1571.5,2155.6 1572.7,2157.8 1573.9,2155 1575.1,2153.8 1576.3,2155.9 1577.5,2154.3 1578.7,2156.3 1579.9,2154 1581.1,2155.5 1582.3,2155.3 1583.5,2155.6 1584.7,2154.9 1585.9,2154.4 1587.1,2155.6 1588.3,2154.8 1589.5,2155.9 1590.7,2155.3 1591.9,2152.2 1593.1,2155.6 1594.3,2157.8 1595.5,2156.2 1596.7,2156.6 1597.9,2156.4 1599.1,2155 1600.3,2153.6 1601.5,2156.9 1602.7,2157.3 1603.9,2156.6 1605.1,2156.3 1606.3,2156.3 1607.5,2155.6 1608.7,2156.1" fill="none" stroke="#ff3caa" stroke-width="4.3" stroke-linejoin="round"/>
<line x1="393.7" y1="157" x2="393.7" y2="495.6" stroke="#000" stroke-width="5" stroke-dasharray="24.3 21.5"/>
<line x1="446.5" y1="209" x2="446.5" y2="495.6" stroke="#000" stroke-width="5" stroke-dasharray="5 4.93"/>
<line x1="484.8" y1="274.5" x2="484.8" y2="495.6" stroke="#000" stroke-width="5" stroke-dasharray="5 4.93"/>
<line x1="544.6" y1="263.5" x2="544.6" y2="495.6" stroke="#000" stroke-width="5" stroke-dasharray="24.3 21.5"/>
<line x1="1045.3" y1="334.3" x2="1045.3" y2="495.6" stroke="#000" stroke-width="5" stroke-dasharray="24.3 21.5"/>
<line x1="1075.1" y1="334.3" x2="1075.1" y2="495.6" stroke="#000" stroke-width="5" stroke-dasharray="5 4.93"/>
<line x1="1379" y1="334.3" x2="1379" y2="495.6" stroke="#000" stroke-width="5" stroke-dasharray="24.3 21.5"/>
<line x1="1444.4" y1="330" x2="1444.4" y2="495.6" stroke="#000" stroke-width="5" stroke-dasharray="5 4.93"/>
<line x1="1488.7" y1="332" x2="1488.7" y2="495.6" stroke="#000" stroke-width="5" stroke-dasharray="24.3 21.5"/>
<line x1="395.7" y1="569.2" x2="395.7" y2="914.1" stroke="#000" stroke-width="5" stroke-dasharray="24.3 21.5"/>
<line x1="448.3" y1="624.5" x2="448.3" y2="914.1" stroke="#000" stroke-width="5" stroke-dasharray="5 4.93"/>
<line x1="488.7" y1="699" x2="488.7" y2="914.1" stroke="#000" stroke-width="5" stroke-dasharray="5 4.93"/>
<line x1="547" y1="695.5" x2="547" y2="914.1" stroke="#000" stroke-width="5" stroke-dasharray="24.3 21.5"/>
<line x1="1051" y1="756.9" x2="1051" y2="914.1" stroke="#000" stroke-width="5" stroke-dasharray="24.3 21.5"/>
<line x1="1083.9" y1="754.7" x2="1083.9" y2="914.1" stroke="#000" stroke-width="5" stroke-dasharray="5 4.93"/>
<line x1="1385.6" y1="756.9" x2="1385.6" y2="914.1" stroke="#000" stroke-width="5" stroke-dasharray="24.3 21.5"/>
<line x1="1454.5" y1="754.7" x2="1454.5" y2="914.1" stroke="#000" stroke-width="5" stroke-dasharray="5 4.93"/>
<line x1="1496.1" y1="756.9" x2="1496.1" y2="914.1" stroke="#000" stroke-width="5" stroke-dasharray="24.3 21.5"/>
<line x1="356.2" y1="1111.3" x2="356.2" y2="1326" stroke="#000" stroke-width="5" stroke-dasharray="5 4.93"/>
<line x1="395.7" y1="1109.1" x2="395.7" y2="1330.2" stroke="#000" stroke-width="5" stroke-dasharray="24.3 21.5"/>
<line x1="448.3" y1="1111.3" x2="448.3" y2="1328" stroke="#000" stroke-width="5" stroke-dasharray="5 4.93"/>
<line x1="488.7" y1="1030.2" x2="488.7" y2="1328" stroke="#000" stroke-width="5" stroke-dasharray="5 4.93"/>
<line x1="547" y1="1102.5" x2="547" y2="1330.2" stroke="#000" stroke-width="5" stroke-dasharray="24.3 21.5"/>
<line x1="1049.6" y1="990.7" x2="1049.6" y2="1330.2" stroke="#000" stroke-width="5" stroke-dasharray="24.3 21.5"/>
<line x1="1083.9" y1="1078.4" x2="1083.9" y2="1328" stroke="#000" stroke-width="5" stroke-dasharray="5 4.93"/>
<line x1="1385.2" y1="1169.6" x2="1385.2" y2="1330.2" stroke="#000" stroke-width="5" stroke-dasharray="24.3 21.5"/>
<line x1="1452.7" y1="1169.6" x2="1452.7" y2="1312" stroke="#000" stroke-width="5" stroke-dasharray="5 4.93"/>
<line x1="1495.3" y1="1166.1" x2="1495.3" y2="1330.2" stroke="#000" stroke-width="5" stroke-dasharray="24.3 21.5"/>
<line x1="358.4" y1="1532.7" x2="358.4" y2="1754" stroke="#000" stroke-width="5" stroke-dasharray="5 4.93"/>
<line x1="459.3" y1="1466.9" x2="459.3" y2="1750" stroke="#000" stroke-width="5" stroke-dasharray="5 4.93"/>
<line x1="486.5" y1="1398.9" x2="486.5" y2="1752" stroke="#000" stroke-width="5" stroke-dasharray="5 4.93"/>
<line x1="811" y1="1662.1" x2="811" y2="1758" stroke="#000" stroke-width="5" stroke-dasharray="5 4.93"/>
<line x1="1059.7" y1="1540.2" x2="1059.7" y2="1760" stroke="#000" stroke-width="5" stroke-dasharray="5 4.93"/>
<line x1="1273.8" y1="1651.1" x2="1273.8" y2="1765" stroke="#000" stroke-width="5" stroke-dasharray="5 4.93"/>
<line x1="1422.9" y1="1635.8" x2="1422.9" y2="1760" stroke="#000" stroke-width="5" stroke-dasharray="5 4.93"/>
<line x1="1448.8" y1="1635.8" x2="1448.8" y2="1760" stroke="#000" stroke-width="5" stroke-dasharray="5 4.93"/>
<line x1="365" y1="1973.8" x2="365" y2="2162" stroke="#000" stroke-width="5" stroke-dasharray="5 4.93"/>
<line x1="462.4" y1="1888.3" x2="462.4" y2="2160" stroke="#000" stroke-width="5" stroke-dasharray="5 4.93"/>
<line x1="493.1" y1="1826.9" x2="493.1" y2="2158" stroke="#000" stroke-width="5" stroke-dasharray="5 4.93"/>
<line x1="815.9" y1="2076.9" x2="815.9" y2="2180" stroke="#000" stroke-width="5" stroke-dasharray="5 4.93"/>
<line x1="1067.6" y1="2046.2" x2="1067.6" y2="2169" stroke="#000" stroke-width="5" stroke-dasharray="5 4.93"/>
<line x1="1283.9" y1="2074.7" x2="1283.9" y2="2180" stroke="#000" stroke-width="5" stroke-dasharray="5 4.93"/>
<line x1="1431.7" y1="2057.2" x2="1431.7" y2="2180" stroke="#000" stroke-width="5" stroke-dasharray="5 4.93"/>
<line x1="1458" y1="2057.2" x2="1458" y2="2180" stroke="#000" stroke-width="5" stroke-dasharray="5 4.93"/>
<line x1="244.0" y1="495.6" x2="270.5" y2="495.6" stroke="#000" stroke-width="5.0"/>
<text transform="translate(214.8,512.1) scale(1,1.02)" text-anchor="end" font-size="56">0</text>
<line x1="244.0" y1="393.1" x2="270.5" y2="393.1" stroke="#000" stroke-width="5.0"/>
<text transform="translate(214.8,409.6) scale(1,1.02)" text-anchor="end" font-size="56">200</text>
<line x1="244.0" y1="290.5" x2="270.5" y2="290.5" stroke="#000" stroke-width="5.0"/>
<text transform="translate(214.8,307) scale(1,1.02)" text-anchor="end" font-size="56">400</text>
<line x1="244.0" y1="188" x2="270.5" y2="188" stroke="#000" stroke-width="5.0"/>
<text transform="translate(214.8,204.5) scale(1,1.02)" text-anchor="end" font-size="56">600</text>
<line x1="244.0" y1="444.3" x2="256.6" y2="444.3" stroke="#000" stroke-width="5.0"/>
<line x1="244.0" y1="341.8" x2="256.6" y2="341.8" stroke="#000" stroke-width="5.0"/>
<line x1="244.0" y1="239.2" x2="256.6" y2="239.2" stroke="#000" stroke-width="5.0"/>
<line x1="244.0" y1="136.7" x2="256.6" y2="136.7" stroke="#000" stroke-width="5.0"/>
<line x1="275.7" y1="542.3" x2="275.7" y2="529.6" stroke="#000" stroke-width="5.0"/>
<line x1="382.5" y1="542.3" x2="382.5" y2="529.6" stroke="#000" stroke-width="5.0"/>
<line x1="489.3" y1="542.3" x2="489.3" y2="529.6" stroke="#000" stroke-width="5.0"/>
<line x1="596.1" y1="542.3" x2="596.1" y2="529.6" stroke="#000" stroke-width="5.0"/>
<line x1="702.9" y1="542.3" x2="702.9" y2="529.6" stroke="#000" stroke-width="5.0"/>
<line x1="809.7" y1="542.3" x2="809.7" y2="529.6" stroke="#000" stroke-width="5.0"/>
<line x1="916.5" y1="542.3" x2="916.5" y2="529.6" stroke="#000" stroke-width="5.0"/>
<line x1="1023.3" y1="542.3" x2="1023.3" y2="529.6" stroke="#000" stroke-width="5.0"/>
<line x1="1130.1" y1="542.3" x2="1130.1" y2="529.6" stroke="#000" stroke-width="5.0"/>
<line x1="1236.9" y1="542.3" x2="1236.9" y2="529.6" stroke="#000" stroke-width="5.0"/>
<line x1="1343.7" y1="542.3" x2="1343.7" y2="529.6" stroke="#000" stroke-width="5.0"/>
<line x1="1450.5" y1="542.3" x2="1450.5" y2="529.6" stroke="#000" stroke-width="5.0"/>
<line x1="1557.3" y1="542.3" x2="1557.3" y2="529.6" stroke="#000" stroke-width="5.0"/>
<line x1="329.1" y1="542.3" x2="329.1" y2="515.8" stroke="#000" stroke-width="5.0"/>
<line x1="435.9" y1="542.3" x2="435.9" y2="515.8" stroke="#000" stroke-width="5.0"/>
<line x1="542.7" y1="542.3" x2="542.7" y2="515.8" stroke="#000" stroke-width="5.0"/>
<line x1="649.5" y1="542.3" x2="649.5" y2="515.8" stroke="#000" stroke-width="5.0"/>
<line x1="756.3" y1="542.3" x2="756.3" y2="515.8" stroke="#000" stroke-width="5.0"/>
<line x1="863.1" y1="542.3" x2="863.1" y2="515.8" stroke="#000" stroke-width="5.0"/>
<line x1="969.9" y1="542.3" x2="969.9" y2="515.8" stroke="#000" stroke-width="5.0"/>
<line x1="1076.7" y1="542.3" x2="1076.7" y2="515.8" stroke="#000" stroke-width="5.0"/>
<line x1="1183.5" y1="542.3" x2="1183.5" y2="515.8" stroke="#000" stroke-width="5.0"/>
<line x1="1290.3" y1="542.3" x2="1290.3" y2="515.8" stroke="#000" stroke-width="5.0"/>
<line x1="1397.1" y1="542.3" x2="1397.1" y2="515.8" stroke="#000" stroke-width="5.0"/>
<line x1="1503.9" y1="542.3" x2="1503.9" y2="515.8" stroke="#000" stroke-width="5.0"/>
<line x1="244.0" y1="914.1" x2="270.5" y2="914.1" stroke="#000" stroke-width="5.0"/>
<text transform="translate(214.8,930.6) scale(1,1.02)" text-anchor="end" font-size="56">0</text>
<line x1="244.0" y1="809.8" x2="270.5" y2="809.8" stroke="#000" stroke-width="5.0"/>
<text transform="translate(214.8,826.3) scale(1,1.02)" text-anchor="end" font-size="56">180</text>
<line x1="244.0" y1="705.4" x2="270.5" y2="705.4" stroke="#000" stroke-width="5.0"/>
<text transform="translate(214.8,721.9) scale(1,1.02)" text-anchor="end" font-size="56">360</text>
<line x1="244.0" y1="601.1" x2="270.5" y2="601.1" stroke="#000" stroke-width="5.0"/>
<text transform="translate(214.8,617.6) scale(1,1.02)" text-anchor="end" font-size="56">540</text>
<line x1="244.0" y1="861.9" x2="256.6" y2="861.9" stroke="#000" stroke-width="5.0"/>
<line x1="244.0" y1="757.6" x2="256.6" y2="757.6" stroke="#000" stroke-width="5.0"/>
<line x1="244.0" y1="653.3" x2="256.6" y2="653.3" stroke="#000" stroke-width="5.0"/>
<line x1="244.0" y1="549" x2="256.6" y2="549" stroke="#000" stroke-width="5.0"/>
<line x1="275.7" y1="960.5" x2="275.7" y2="947.8" stroke="#000" stroke-width="5.0"/>
<line x1="382.5" y1="960.5" x2="382.5" y2="947.8" stroke="#000" stroke-width="5.0"/>
<line x1="489.3" y1="960.5" x2="489.3" y2="947.8" stroke="#000" stroke-width="5.0"/>
<line x1="596.1" y1="960.5" x2="596.1" y2="947.8" stroke="#000" stroke-width="5.0"/>
<line x1="702.9" y1="960.5" x2="702.9" y2="947.8" stroke="#000" stroke-width="5.0"/>
<line x1="809.7" y1="960.5" x2="809.7" y2="947.8" stroke="#000" stroke-width="5.0"/>
<line x1="916.5" y1="960.5" x2="916.5" y2="947.8" stroke="#000" stroke-width="5.0"/>
<line x1="1023.3" y1="960.5" x2="1023.3" y2="947.8" stroke="#000" stroke-width="5.0"/>
<line x1="1130.1" y1="960.5" x2="1130.1" y2="947.8" stroke="#000" stroke-width="5.0"/>
<line x1="1236.9" y1="960.5" x2="1236.9" y2="947.8" stroke="#000" stroke-width="5.0"/>
<line x1="1343.7" y1="960.5" x2="1343.7" y2="947.8" stroke="#000" stroke-width="5.0"/>
<line x1="1450.5" y1="960.5" x2="1450.5" y2="947.8" stroke="#000" stroke-width="5.0"/>
<line x1="1557.3" y1="960.5" x2="1557.3" y2="947.8" stroke="#000" stroke-width="5.0"/>
<line x1="329.1" y1="960.5" x2="329.1" y2="934" stroke="#000" stroke-width="5.0"/>
<line x1="435.9" y1="960.5" x2="435.9" y2="934" stroke="#000" stroke-width="5.0"/>
<line x1="542.7" y1="960.5" x2="542.7" y2="934" stroke="#000" stroke-width="5.0"/>
<line x1="649.5" y1="960.5" x2="649.5" y2="934" stroke="#000" stroke-width="5.0"/>
<line x1="756.3" y1="960.5" x2="756.3" y2="934" stroke="#000" stroke-width="5.0"/>
<line x1="863.1" y1="960.5" x2="863.1" y2="934" stroke="#000" stroke-width="5.0"/>
<line x1="969.9" y1="960.5" x2="969.9" y2="934" stroke="#000" stroke-width="5.0"/>
<line x1="1076.7" y1="960.5" x2="1076.7" y2="934" stroke="#000" stroke-width="5.0"/>
<line x1="1183.5" y1="960.5" x2="1183.5" y2="934" stroke="#000" stroke-width="5.0"/>
<line x1="1290.3" y1="960.5" x2="1290.3" y2="934" stroke="#000" stroke-width="5.0"/>
<line x1="1397.1" y1="960.5" x2="1397.1" y2="934" stroke="#000" stroke-width="5.0"/>
<line x1="1503.9" y1="960.5" x2="1503.9" y2="934" stroke="#000" stroke-width="5.0"/>
<line x1="244.0" y1="1330.2" x2="270.5" y2="1330.2" stroke="#000" stroke-width="5.0"/>
<text transform="translate(214.8,1346.7) scale(1,1.02)" text-anchor="end" font-size="56">0</text>
<line x1="244.0" y1="1226.3" x2="270.5" y2="1226.3" stroke="#000" stroke-width="5.0"/>
<text transform="translate(214.8,1242.8) scale(1,1.02)" text-anchor="end" font-size="56">55</text>
<line x1="244.0" y1="1122.4" x2="270.5" y2="1122.4" stroke="#000" stroke-width="5.0"/>
<text transform="translate(214.8,1138.9) scale(1,1.02)" text-anchor="end" font-size="56">110</text>
<line x1="244.0" y1="1018.5" x2="270.5" y2="1018.5" stroke="#000" stroke-width="5.0"/>
<text transform="translate(214.8,1035) scale(1,1.02)" text-anchor="end" font-size="56">165</text>
<line x1="244.0" y1="1278.3" x2="256.6" y2="1278.3" stroke="#000" stroke-width="5.0"/>
<line x1="244.0" y1="1174.4" x2="256.6" y2="1174.4" stroke="#000" stroke-width="5.0"/>
<line x1="244.0" y1="1070.5" x2="256.6" y2="1070.5" stroke="#000" stroke-width="5.0"/>
<line x1="244.0" y1="966.6" x2="256.6" y2="966.6" stroke="#000" stroke-width="5.0"/>
<line x1="275.7" y1="1377.2" x2="275.7" y2="1364.5" stroke="#000" stroke-width="5.0"/>
<line x1="382.5" y1="1377.2" x2="382.5" y2="1364.5" stroke="#000" stroke-width="5.0"/>
<line x1="489.3" y1="1377.2" x2="489.3" y2="1364.5" stroke="#000" stroke-width="5.0"/>
<line x1="596.1" y1="1377.2" x2="596.1" y2="1364.5" stroke="#000" stroke-width="5.0"/>
<line x1="702.9" y1="1377.2" x2="702.9" y2="1364.5" stroke="#000" stroke-width="5.0"/>
<line x1="809.7" y1="1377.2" x2="809.7" y2="1364.5" stroke="#000" stroke-width="5.0"/>
<line x1="916.5" y1="1377.2" x2="916.5" y2="1364.5" stroke="#000" stroke-width="5.0"/>
<line x1="1023.3" y1="1377.2" x2="1023.3" y2="1364.5" stroke="#000" stroke-width="5.0"/>
<line x1="1130.1" y1="1377.2" x2="1130.1" y2="1364.5" stroke="#000" stroke-width="5.0"/>
<line x1="1236.9" y1="1377.2" x2="1236.9" y2="1364.5" stroke="#000" stroke-width="5.0"/>
<line x1="1343.7" y1="1377.2" x2="1343.7" y2="1364.5" stroke="#000" stroke-width="5.0"/>
<line x1="1450.5" y1="1377.2" x2="1450.5" y2="1364.5" stroke="#000" stroke-width="5.0"/>
<line x1="1557.3" y1="1377.2" x2="1557.3" y2="1364.5" stroke="#000" stroke-width="5.0"/>
<line x1="329.1" y1="1377.2" x2="329.1" y2="1350.7" stroke="#000" stroke-width="5.0"/>
<line x1="435.9" y1="1377.2" x2="435.9" y2="1350.7" stroke="#000" stroke-width="5.0"/>
<line x1="542.7" y1="1377.2" x2="542.7" y2="1350.7" stroke="#000" stroke-width="5.0"/>
<line x1="649.5" y1="1377.2" x2="649.5" y2="1350.7" stroke="#000" stroke-width="5.0"/>
<line x1="756.3" y1="1377.2" x2="756.3" y2="1350.7" stroke="#000" stroke-width="5.0"/>
<line x1="863.1" y1="1377.2" x2="863.1" y2="1350.7" stroke="#000" stroke-width="5.0"/>
<line x1="969.9" y1="1377.2" x2="969.9" y2="1350.7" stroke="#000" stroke-width="5.0"/>
<line x1="1076.7" y1="1377.2" x2="1076.7" y2="1350.7" stroke="#000" stroke-width="5.0"/>
<line x1="1183.5" y1="1377.2" x2="1183.5" y2="1350.7" stroke="#000" stroke-width="5.0"/>
<line x1="1290.3" y1="1377.2" x2="1290.3" y2="1350.7" stroke="#000" stroke-width="5.0"/>
<line x1="1397.1" y1="1377.2" x2="1397.1" y2="1350.7" stroke="#000" stroke-width="5.0"/>
<line x1="1503.9" y1="1377.2" x2="1503.9" y2="1350.7" stroke="#000" stroke-width="5.0"/>
<line x1="244.0" y1="1746.8" x2="270.5" y2="1746.8" stroke="#000" stroke-width="5.0"/>
<text transform="translate(214.8,1763.3) scale(1,1.02)" text-anchor="end" font-size="56">0</text>
<line x1="244.0" y1="1642.7" x2="270.5" y2="1642.7" stroke="#000" stroke-width="5.0"/>
<text transform="translate(214.8,1659.2) scale(1,1.02)" text-anchor="end" font-size="56">270</text>
<line x1="244.0" y1="1538.5" x2="270.5" y2="1538.5" stroke="#000" stroke-width="5.0"/>
<text transform="translate(214.8,1555) scale(1,1.02)" text-anchor="end" font-size="56">540</text>
<line x1="244.0" y1="1434.4" x2="270.5" y2="1434.4" stroke="#000" stroke-width="5.0"/>
<text transform="translate(214.8,1450.9) scale(1,1.02)" text-anchor="end" font-size="56">810</text>
<line x1="244.0" y1="1694.7" x2="256.6" y2="1694.7" stroke="#000" stroke-width="5.0"/>
<line x1="244.0" y1="1590.6" x2="256.6" y2="1590.6" stroke="#000" stroke-width="5.0"/>
<line x1="244.0" y1="1486.5" x2="256.6" y2="1486.5" stroke="#000" stroke-width="5.0"/>
<line x1="244.0" y1="1382.3" x2="256.6" y2="1382.3" stroke="#000" stroke-width="5.0"/>
<line x1="275.7" y1="1794.0" x2="275.7" y2="1781.3" stroke="#000" stroke-width="5.0"/>
<line x1="382.5" y1="1794.0" x2="382.5" y2="1781.3" stroke="#000" stroke-width="5.0"/>
<line x1="489.3" y1="1794.0" x2="489.3" y2="1781.3" stroke="#000" stroke-width="5.0"/>
<line x1="596.1" y1="1794.0" x2="596.1" y2="1781.3" stroke="#000" stroke-width="5.0"/>
<line x1="702.9" y1="1794.0" x2="702.9" y2="1781.3" stroke="#000" stroke-width="5.0"/>
<line x1="809.7" y1="1794.0" x2="809.7" y2="1781.3" stroke="#000" stroke-width="5.0"/>
<line x1="916.5" y1="1794.0" x2="916.5" y2="1781.3" stroke="#000" stroke-width="5.0"/>
<line x1="1023.3" y1="1794.0" x2="1023.3" y2="1781.3" stroke="#000" stroke-width="5.0"/>
<line x1="1130.1" y1="1794.0" x2="1130.1" y2="1781.3" stroke="#000" stroke-width="5.0"/>
<line x1="1236.9" y1="1794.0" x2="1236.9" y2="1781.3" stroke="#000" stroke-width="5.0"/>
<line x1="1343.7" y1="1794.0" x2="1343.7" y2="1781.3" stroke="#000" stroke-width="5.0"/>
<line x1="1450.5" y1="1794.0" x2="1450.5" y2="1781.3" stroke="#000" stroke-width="5.0"/>
<line x1="1557.3" y1="1794.0" x2="1557.3" y2="1781.3" stroke="#000" stroke-width="5.0"/>
<line x1="329.1" y1="1794.0" x2="329.1" y2="1767.5" stroke="#000" stroke-width="5.0"/>
<line x1="435.9" y1="1794.0" x2="435.9" y2="1767.5" stroke="#000" stroke-width="5.0"/>
<line x1="542.7" y1="1794.0" x2="542.7" y2="1767.5" stroke="#000" stroke-width="5.0"/>
<line x1="649.5" y1="1794.0" x2="649.5" y2="1767.5" stroke="#000" stroke-width="5.0"/>
<line x1="756.3" y1="1794.0" x2="756.3" y2="1767.5" stroke="#000" stroke-width="5.0"/>
<line x1="863.1" y1="1794.0" x2="863.1" y2="1767.5" stroke="#000" stroke-width="5.0"/>
<line x1="969.9" y1="1794.0" x2="969.9" y2="1767.5" stroke="#000" stroke-width="5.0"/>
<line x1="1076.7" y1="1794.0" x2="1076.7" y2="1767.5" stroke="#000" stroke-width="5.0"/>
<line x1="1183.5" y1="1794.0" x2="1183.5" y2="1767.5" stroke="#000" stroke-width="5.0"/>
<line x1="1290.3" y1="1794.0" x2="1290.3" y2="1767.5" stroke="#000" stroke-width="5.0"/>
<line x1="1397.1" y1="1794.0" x2="1397.1" y2="1767.5" stroke="#000" stroke-width="5.0"/>
<line x1="1503.9" y1="1794.0" x2="1503.9" y2="1767.5" stroke="#000" stroke-width="5.0"/>
<line x1="244.0" y1="2163.9" x2="270.5" y2="2163.9" stroke="#000" stroke-width="5.0"/>
<text transform="translate(214.8,2180.4) scale(1,1.02)" text-anchor="end" font-size="56">0</text>
<line x1="244.0" y1="2058.1" x2="270.5" y2="2058.1" stroke="#000" stroke-width="5.0"/>
<text transform="translate(214.8,2074.6) scale(1,1.02)" text-anchor="end" font-size="56">160</text>
<line x1="244.0" y1="1952.3" x2="270.5" y2="1952.3" stroke="#000" stroke-width="5.0"/>
<text transform="translate(214.8,1968.8) scale(1,1.02)" text-anchor="end" font-size="56">320</text>
<line x1="244.0" y1="1846.5" x2="270.5" y2="1846.5" stroke="#000" stroke-width="5.0"/>
<text transform="translate(214.8,1863) scale(1,1.02)" text-anchor="end" font-size="56">480</text>
<line x1="244.0" y1="2111" x2="256.6" y2="2111" stroke="#000" stroke-width="5.0"/>
<line x1="244.0" y1="2005.2" x2="256.6" y2="2005.2" stroke="#000" stroke-width="5.0"/>
<line x1="244.0" y1="1899.4" x2="256.6" y2="1899.4" stroke="#000" stroke-width="5.0"/>
<line x1="275.7" y1="2209.5" x2="275.7" y2="2196.8" stroke="#000" stroke-width="5.0"/>
<line x1="382.5" y1="2209.5" x2="382.5" y2="2196.8" stroke="#000" stroke-width="5.0"/>
<line x1="489.3" y1="2209.5" x2="489.3" y2="2196.8" stroke="#000" stroke-width="5.0"/>
<line x1="596.1" y1="2209.5" x2="596.1" y2="2196.8" stroke="#000" stroke-width="5.0"/>
<line x1="702.9" y1="2209.5" x2="702.9" y2="2196.8" stroke="#000" stroke-width="5.0"/>
<line x1="809.7" y1="2209.5" x2="809.7" y2="2196.8" stroke="#000" stroke-width="5.0"/>
<line x1="916.5" y1="2209.5" x2="916.5" y2="2196.8" stroke="#000" stroke-width="5.0"/>
<line x1="1023.3" y1="2209.5" x2="1023.3" y2="2196.8" stroke="#000" stroke-width="5.0"/>
<line x1="1130.1" y1="2209.5" x2="1130.1" y2="2196.8" stroke="#000" stroke-width="5.0"/>
<line x1="1236.9" y1="2209.5" x2="1236.9" y2="2196.8" stroke="#000" stroke-width="5.0"/>
<line x1="1343.7" y1="2209.5" x2="1343.7" y2="2196.8" stroke="#000" stroke-width="5.0"/>
<line x1="1450.5" y1="2209.5" x2="1450.5" y2="2196.8" stroke="#000" stroke-width="5.0"/>
<line x1="1557.3" y1="2209.5" x2="1557.3" y2="2196.8" stroke="#000" stroke-width="5.0"/>
<line x1="329.1" y1="2209.5" x2="329.1" y2="2183" stroke="#000" stroke-width="5.0"/>
<line x1="435.9" y1="2209.5" x2="435.9" y2="2183" stroke="#000" stroke-width="5.0"/>
<line x1="542.7" y1="2209.5" x2="542.7" y2="2183" stroke="#000" stroke-width="5.0"/>
<line x1="649.5" y1="2209.5" x2="649.5" y2="2183" stroke="#000" stroke-width="5.0"/>
<line x1="756.3" y1="2209.5" x2="756.3" y2="2183" stroke="#000" stroke-width="5.0"/>
<line x1="863.1" y1="2209.5" x2="863.1" y2="2183" stroke="#000" stroke-width="5.0"/>
<line x1="969.9" y1="2209.5" x2="969.9" y2="2183" stroke="#000" stroke-width="5.0"/>
<line x1="1076.7" y1="2209.5" x2="1076.7" y2="2183" stroke="#000" stroke-width="5.0"/>
<line x1="1183.5" y1="2209.5" x2="1183.5" y2="2183" stroke="#000" stroke-width="5.0"/>
<line x1="1290.3" y1="2209.5" x2="1290.3" y2="2183" stroke="#000" stroke-width="5.0"/>
<line x1="1397.1" y1="2209.5" x2="1397.1" y2="2183" stroke="#000" stroke-width="5.0"/>
<line x1="1503.9" y1="2209.5" x2="1503.9" y2="2183" stroke="#000" stroke-width="5.0"/>
<line x1="241.35" y1="126.0" x2="1613.65" y2="126.0" stroke="#000" stroke-width="5.3"/>
<line x1="241.35" y1="542.3" x2="1613.65" y2="542.3" stroke="#000" stroke-width="5.3"/>
<line x1="241.35" y1="960.5" x2="1613.65" y2="960.5" stroke="#000" stroke-width="5.3"/>
<line x1="241.35" y1="1377.2" x2="1613.65" y2="1377.2" stroke="#000" stroke-width="5.3"/>
<line x1="241.35" y1="1794.0" x2="1613.65" y2="1794.0" stroke="#000" stroke-width="5.3"/>
<line x1="241.35" y1="2209.5" x2="1613.65" y2="2209.5" stroke="#000" stroke-width="5.3"/>
<line x1="244.0" y1="126.0" x2="244.0" y2="2209.5" stroke="#000" stroke-width="5.3"/>
<line x1="1611.0" y1="126.0" x2="1611.0" y2="2209.5" stroke="#000" stroke-width="5.3"/>
<text transform="translate(329.1,2283.4) scale(1,1.02)" text-anchor="middle" font-size="56">40</text>
<text transform="translate(435.9,2283.4) scale(1,1.02)" text-anchor="middle" font-size="56">45</text>
<text transform="translate(542.7,2283.4) scale(1,1.02)" text-anchor="middle" font-size="56">50</text>
<text transform="translate(649.5,2283.4) scale(1,1.02)" text-anchor="middle" font-size="56">55</text>
<text transform="translate(756.3,2283.4) scale(1,1.02)" text-anchor="middle" font-size="56">60</text>
<text transform="translate(863.1,2283.4) scale(1,1.02)" text-anchor="middle" font-size="56">65</text>
<text transform="translate(969.9,2283.4) scale(1,1.02)" text-anchor="middle" font-size="56">70</text>
<text transform="translate(1076.7,2283.4) scale(1,1.02)" text-anchor="middle" font-size="56">75</text>
<text transform="translate(1183.5,2283.4) scale(1,1.02)" text-anchor="middle" font-size="56">80</text>
<text transform="translate(1290.3,2283.4) scale(1,1.02)" text-anchor="middle" font-size="56">85</text>
<text transform="translate(1397.1,2283.4) scale(1,1.02)" text-anchor="middle" font-size="56">90</text>
<text transform="translate(1503.9,2283.4) scale(1,1.02)" text-anchor="middle" font-size="56">95</text>
<text transform="translate(1610.7,2283.4) scale(1,1.02)" text-anchor="middle" font-size="56">100</text>
<text transform="translate(355.9,196.2) scale(1.0,1) rotate(-90)" text-anchor="middle" font-size="50.4" fill="#000">(111)</text>
<text transform="translate(488,191.5) scale(1.0,1) rotate(-90)" text-anchor="middle" font-size="50.4" fill="#ff0000">(002)</text>
<text transform="translate(545.6,190.8) scale(1.0,1) rotate(-90)" text-anchor="middle" font-size="50.4" fill="#ff0000">(101)</text>
<text transform="translate(602,239) scale(1.0,1) rotate(-90)" text-anchor="middle" font-size="50.4" fill="#000">(200)</text>
<text transform="translate(1047.5,258.7) scale(1.0,1) rotate(-90)" text-anchor="middle" font-size="50.4" fill="#000">(220)</text>
<text transform="translate(1107.9,259.8) scale(1.0,1) rotate(-90)" text-anchor="middle" font-size="50.4" fill="#ff0000">(110)</text>
<text transform="translate(1383,257.6) scale(1.0,1) rotate(-90)" text-anchor="middle" font-size="50.4" fill="#000">(311)</text>
<text transform="translate(1446.7,255.4) scale(1.0,1) rotate(-90)" text-anchor="middle" font-size="50.4" fill="#ff0000">(112)</text>
<text transform="translate(1512.5,256.5) scale(1.0,1) rotate(-90)" text-anchor="middle" font-size="50.4" fill="#000">(222)</text>
<text transform="translate(362.6,615.5) scale(1.0,1) rotate(-90)" text-anchor="middle" font-size="50.4" fill="#000">(111)</text>
<text transform="translate(498.6,613.3) scale(1.0,1) rotate(-90)" text-anchor="middle" font-size="50.4" fill="#ff0000">(002)</text>
<text transform="translate(552.3,613.3) scale(1.0,1) rotate(-90)" text-anchor="middle" font-size="50.4" fill="#ff0000">(101)</text>
<text transform="translate(609.4,685.6) scale(1.0,1) rotate(-90)" text-anchor="middle" font-size="50.4" fill="#000">(200)</text>
<text transform="translate(1047.5,680) scale(1.0,1) rotate(-90)" text-anchor="middle" font-size="50.4" fill="#000">(220)</text>
<text transform="translate(1111.1,679) scale(1.0,1) rotate(-90)" text-anchor="middle" font-size="50.4" fill="#ff0000">(110)</text>
<text transform="translate(1389.6,681) scale(1.0,1) rotate(-90)" text-anchor="middle" font-size="50.4" fill="#000">(311)</text>
<text transform="translate(1451,679) scale(1.0,1) rotate(-90)" text-anchor="middle" font-size="50.4" fill="#ff0000">(112)</text>
<text transform="translate(1515.7,680) scale(1.0,1) rotate(-90)" text-anchor="middle" font-size="50.4" fill="#000">(222)</text>
<text transform="translate(330.9,1033.4) scale(1.0,1) rotate(-90)" text-anchor="middle" font-size="50.4" fill="#ff0000">(100)</text>
<text transform="translate(396.6,1033.4) scale(1.0,1) rotate(-90)" text-anchor="middle" font-size="50.4" fill="#000">(111)</text>
<text transform="translate(451.5,1029.1) scale(1.0,1) rotate(-90)" text-anchor="middle" font-size="50.4" fill="#ff0000">(002)</text>
<text transform="translate(552.3,1030) scale(1.0,1) rotate(-90)" text-anchor="middle" font-size="50.4" fill="#ff0000">(101)</text>
<text transform="translate(609.4,1097) scale(1.0,1) rotate(-90)" text-anchor="middle" font-size="50.4" fill="#000">(200)</text>
<text transform="translate(1010.3,1031.3) scale(1.0,1) rotate(-90)" text-anchor="middle" font-size="50.4" fill="#000">(220)</text>
<text transform="translate(1133,1031.3) scale(1.0,1) rotate(-90)" text-anchor="middle" font-size="50.4" fill="#ff0000">(110)</text>
<text transform="translate(1369.9,1087.2) scale(1.0,1) rotate(-90)" text-anchor="middle" font-size="50.4" fill="#000">(311)</text>
<text transform="translate(1440,1086) scale(1.0,1) rotate(-90)" text-anchor="middle" font-size="50.4" fill="#ff0000">(112)</text>
<text transform="translate(1508,1085) scale(1.0,1) rotate(-90)" text-anchor="middle" font-size="50.4" fill="#000">(222)</text>
<text transform="translate(369.2,1462.5) scale(1.0,1) rotate(-90)" text-anchor="middle" font-size="50.4" fill="#ff0000">(100)</text>
<text transform="translate(436.1,1460.4) scale(1.0,1) rotate(-90)" text-anchor="middle" font-size="50.4" fill="#ff0000">(002)</text>
<text transform="translate(551.2,1460.4) scale(1.0,1) rotate(-90)" text-anchor="middle" font-size="50.4" fill="#ff0000">(101)</text>
<text transform="translate(827.5,1560.1) scale(1.0,1) rotate(-90)" text-anchor="middle" font-size="50.4" fill="#ff0000">(102)</text>
<text transform="translate(1077.1,1468) scale(1.0,1) rotate(-90)" text-anchor="middle" font-size="50.4" fill="#ff0000">(110)</text>
<text transform="translate(1285.5,1547) scale(1.0,1) rotate(-90)" text-anchor="middle" font-size="50.4" fill="#ff0000">(103)</text>
<text transform="translate(1418.1,1549.2) scale(1.0,1) rotate(-90)" text-anchor="middle" font-size="50.4" fill="#ff0000">(112)</text>
<text transform="translate(1478.5,1548) scale(1.0,1) rotate(-90)" text-anchor="middle" font-size="50.4" fill="#ff0000">(201)</text>
<text transform="translate(371.4,1880.6) scale(1.0,1) rotate(-90)" text-anchor="middle" font-size="50.4" fill="#ff0000">(100)</text>
<text transform="translate(436.1,1877.4) scale(1.0,1) rotate(-90)" text-anchor="middle" font-size="50.4" fill="#ff0000">(002)</text>
<text transform="translate(554.6,1877.4) scale(1.0,1) rotate(-90)" text-anchor="middle" font-size="50.4" fill="#ff0000">(101)</text>
<text transform="translate(846.2,1973.8) scale(1.0,1) rotate(-90)" text-anchor="middle" font-size="50.4" fill="#ff0000">(102)</text>
<text transform="translate(1083.7,1969.4) scale(1.0,1) rotate(-90)" text-anchor="middle" font-size="50.4" fill="#ff0000">(110)</text>
<text transform="translate(1282.1,1969.4) scale(1.0,1) rotate(-90)" text-anchor="middle" font-size="50.4" fill="#ff0000">(103)</text>
<text transform="translate(1414.8,1971.6) scale(1.0,1) rotate(-90)" text-anchor="middle" font-size="50.4" fill="#ff0000">(112)</text>
<text transform="translate(1476.2,1968.3) scale(1.0,1) rotate(-90)" text-anchor="middle" font-size="50.4" fill="#ff0000">(201)</text>
<text transform="translate(1510.2,430.3) scale(1,1.13)" font-size="59" font-weight="bold">S5</text>
<text transform="translate(1511.9,853) scale(1,1.13)" font-size="59" font-weight="bold">S4</text>
<text transform="translate(1514.1,1220.5) scale(1,1.13)" font-size="59" font-weight="bold">S3</text>
<text transform="translate(1512.2,1694.5) scale(1,1.13)" font-size="59" font-weight="bold">S2</text>
<text transform="translate(1517.7,2116.2) scale(1,1.13)" font-size="59" font-weight="bold">S1</text>
<text transform="translate(64.7,1143.2) scale(1.027,1) rotate(-90)" text-anchor="middle" font-size="66.9">Intensity (a.u.)</text>
<text transform="translate(909.9,2394.9) scale(1,1.02)" text-anchor="middle" font-size="62.5">2θ (deg.)</text>
<text transform="translate(60.4,62.8) scale(1,1.02)" font-size="54.0">JCPDF patterns:</text>
<line x1="467.6" y1="49.6" x2="486.4" y2="49.6" stroke="#000" stroke-width="4"/>
<line x1="501.4" y1="49.6" x2="517.7" y2="49.6" stroke="#000" stroke-width="4"/>
<line x1="532.7" y1="49.6" x2="550.3" y2="49.6" stroke="#000" stroke-width="4"/>
<text transform="translate(567.1,62.8) scale(1,1.02)" font-size="54.8">MoC (01-089-2868)</text>
<line x1="1054.5" y1="47" x2="1126" y2="47" stroke="#000" stroke-width="3.2" stroke-dasharray="3.6 3"/>
<text transform="translate(1137.1,62.8) scale(1,1.02)" font-size="54.4" fill="#ff0000">Mo</text>
<text transform="translate(1213.2,81.0) scale(1,1.02)" font-size="51" fill="#ff0000">2</text>
<text transform="translate(1244.6,62.8) scale(1,1.02)" font-size="54.4" fill="#ff0000">C (00-035-0787)</text>
</svg>
</body></html>
